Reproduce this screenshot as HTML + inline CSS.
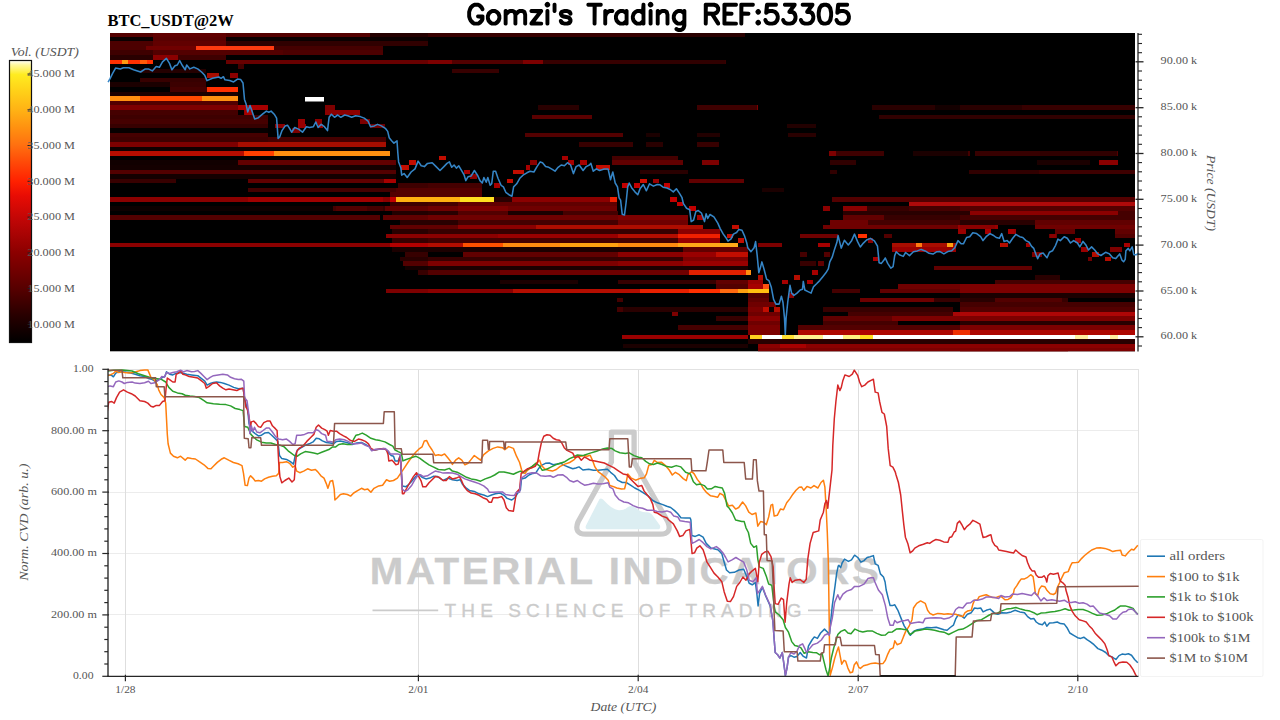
<!DOCTYPE html>
<html lang="en"><head><meta charset="utf-8"><title>BTC_USDT@2W - Gomzi's Trading REF:53305</title>
<style>
html,body{margin:0;padding:0;background:#fff;}
body{width:1280px;height:720px;position:relative;overflow:hidden;font-family:"Liberation Serif",serif;}
svg text{white-space:pre;}
</style></head><body>
<svg width="1280" height="720" viewBox="0 0 1280 720" style="position:absolute;left:0;top:0">
<defs><clipPath id="hc"><rect x="110" y="33" width="1025" height="318.3"/></clipPath>
<clipPath id="lc"><rect x="108" y="368" width="1031" height="309"/></clipPath>
<linearGradient id="cb" x1="0" y1="1" x2="0" y2="0">
<stop offset="0.000" stop-color="#000000"/>
<stop offset="0.100" stop-color="#2a0000"/>
<stop offset="0.190" stop-color="#560000"/>
<stop offset="0.320" stop-color="#8c0000"/>
<stop offset="0.440" stop-color="#c20606"/>
<stop offset="0.520" stop-color="#e80c04"/>
<stop offset="0.570" stop-color="#ff2000"/>
<stop offset="0.640" stop-color="#ff4a08"/>
<stop offset="0.700" stop-color="#ff7010"/>
<stop offset="0.760" stop-color="#ff9010"/>
<stop offset="0.820" stop-color="#ffb014"/>
<stop offset="0.890" stop-color="#ffd018"/>
<stop offset="0.950" stop-color="#ffec20"/>
<stop offset="0.985" stop-color="#fff8a0"/>
<stop offset="1.000" stop-color="#ffffff"/>
</linearGradient><clipPath id="hc2"><rect x="100" y="33" width="1045" height="318.5"/></clipPath></defs>
<rect x="110" y="33" width="1025" height="318.3" fill="#000"/>
<g clip-path="url(#hc)" shape-rendering="crispEdges">
<rect x="110" y="32" width="260" height="5" fill="#3c0000"/>
<rect x="153" y="32" width="73" height="5" fill="#4e0000"/>
<rect x="370" y="32" width="58" height="5" fill="#240000"/>
<rect x="153" y="37" width="73" height="4" fill="#450000"/>
<rect x="226" y="37" width="202" height="4" fill="#0a0000"/>
<rect x="110" y="41" width="43" height="5" fill="#370000"/>
<rect x="153" y="41" width="73" height="5" fill="#490000"/>
<rect x="226" y="41" width="202" height="5" fill="#290000"/>
<rect x="110" y="46" width="36" height="4" fill="#370000"/>
<rect x="146" y="46" width="50" height="4" fill="#5c0000"/>
<rect x="196" y="46" width="78" height="4" fill="#ff3a10"/>
<rect x="274" y="46" width="109" height="4" fill="#370000"/>
<rect x="110" y="50" width="43" height="5" fill="#300000"/>
<rect x="153" y="50" width="130" height="5" fill="#3e0000"/>
<rect x="283" y="50" width="100" height="5" fill="#450000"/>
<rect x="110" y="55" width="43" height="5" fill="#1b0000"/>
<rect x="153" y="55" width="25" height="5" fill="#780000"/>
<rect x="178" y="55" width="48" height="5" fill="#290000"/>
<rect x="110" y="60" width="43" height="4" fill="#ff3000"/>
<rect x="122" y="60" width="6" height="4" fill="#ff9a10"/>
<rect x="140" y="60" width="7" height="4" fill="#ff5a08"/>
<rect x="226" y="60" width="202" height="4" fill="#680000"/>
<rect x="238" y="64" width="6" height="5" fill="#450000"/>
<rect x="140" y="69" width="66" height="4" fill="#240000"/>
<rect x="207" y="73" width="12" height="5" fill="#a70d00"/>
<rect x="230" y="73" width="8" height="5" fill="#8b0000"/>
<rect x="140" y="78" width="66" height="4" fill="#370000"/>
<rect x="110" y="82" width="60" height="5" fill="#1b0000"/>
<rect x="170" y="82" width="36" height="5" fill="#3c0000"/>
<rect x="170" y="87" width="37" height="5" fill="#450000"/>
<rect x="207" y="87" width="31" height="5" fill="#ff3000"/>
<rect x="110" y="92" width="128" height="4" fill="#1b0000"/>
<rect x="110" y="96" width="30" height="5" fill="#ff9010"/>
<rect x="140" y="96" width="62" height="5" fill="#ff4a00"/>
<rect x="202" y="96" width="36" height="5" fill="#ff9010"/>
<rect x="110" y="101" width="128" height="4" fill="#530000"/>
<rect x="110" y="105" width="134" height="5" fill="#7d0000"/>
<rect x="238" y="105" width="30" height="5" fill="#a70000"/>
<rect x="110" y="110" width="128" height="5" fill="#450000"/>
<rect x="244" y="110" width="9" height="5" fill="#990000"/>
<rect x="110" y="115" width="158" height="4" fill="#3e0000"/>
<rect x="110" y="119" width="158" height="5" fill="#450000"/>
<rect x="110" y="124" width="158" height="4" fill="#370000"/>
<rect x="298" y="124" width="8" height="4" fill="#990000"/>
<rect x="318" y="124" width="5" height="4" fill="#990000"/>
<rect x="170" y="128" width="98" height="5" fill="#370000"/>
<rect x="110" y="133" width="158" height="4" fill="#450000"/>
<rect x="110" y="137" width="158" height="5" fill="#3e0000"/>
<rect x="268" y="137" width="118" height="5" fill="#450000"/>
<rect x="110" y="142" width="128" height="5" fill="#7d0000"/>
<rect x="238" y="142" width="148" height="5" fill="#a70d00"/>
<rect x="110" y="147" width="276" height="4" fill="#290000"/>
<rect x="110" y="151" width="134" height="5" fill="#b40d00"/>
<rect x="244" y="151" width="30" height="5" fill="#ff4000"/>
<rect x="274" y="151" width="116" height="5" fill="#ff9010"/>
<rect x="110" y="160" width="128" height="5" fill="#290000"/>
<rect x="238" y="160" width="158" height="5" fill="#7d0000"/>
<rect x="110" y="165" width="286" height="5" fill="#140000"/>
<rect x="110" y="170" width="286" height="4" fill="#530000"/>
<rect x="110" y="174" width="286" height="5" fill="#140000"/>
<rect x="110" y="179" width="66" height="4" fill="#370000"/>
<rect x="248" y="179" width="148" height="4" fill="#610000"/>
<rect x="384" y="179" width="12" height="4" fill="#a70000"/>
<rect x="248" y="188" width="148" height="4" fill="#450000"/>
<rect x="396" y="188" width="32" height="4" fill="#530000"/>
<rect x="390" y="192" width="38" height="5" fill="#610000"/>
<rect x="110" y="197" width="280" height="5" fill="#8b0000"/>
<rect x="390" y="197" width="6" height="5" fill="#c20000"/>
<rect x="396" y="197" width="32" height="5" fill="#ffb010"/>
<rect x="390" y="202" width="38" height="4" fill="#450000"/>
<rect x="110" y="206" width="223" height="5" fill="#290000"/>
<rect x="333" y="206" width="95" height="5" fill="#450000"/>
<rect x="248" y="197" width="135" height="5" fill="#a00000"/>
<rect x="336" y="206" width="31" height="5" fill="#530000"/>
<rect x="383" y="206" width="45" height="5" fill="#370000"/>
<rect x="110" y="215" width="270" height="5" fill="#530000"/>
<rect x="383" y="215" width="45" height="5" fill="#610000"/>
<rect x="390" y="225" width="38" height="4" fill="#610000"/>
<rect x="386" y="234" width="42" height="4" fill="#8b0000"/>
<rect x="110" y="243" width="280" height="4" fill="#8b0000"/>
<rect x="390" y="243" width="38" height="4" fill="#b40000"/>
<rect x="403" y="261" width="25" height="5" fill="#290000"/>
<rect x="386" y="289" width="42" height="4" fill="#7d0000"/>
<rect x="428" y="32" width="218" height="5" fill="#370000"/>
<rect x="428" y="60" width="24" height="4" fill="#7d0000"/>
<rect x="452" y="60" width="71" height="4" fill="#530000"/>
<rect x="523" y="60" width="20" height="4" fill="#7d0000"/>
<rect x="543" y="60" width="183" height="4" fill="#370000"/>
<rect x="452" y="69" width="47" height="4" fill="#370000"/>
<rect x="538" y="105" width="41" height="5" fill="#290000"/>
<rect x="697" y="105" width="51" height="5" fill="#7d0000"/>
<rect x="532" y="115" width="60" height="4" fill="#6f0000"/>
<rect x="526" y="133" width="97" height="4" fill="#610000"/>
<rect x="579" y="142" width="54" height="5" fill="#370000"/>
<rect x="646" y="142" width="17" height="5" fill="#290000"/>
<rect x="697" y="142" width="22" height="5" fill="#370000"/>
<rect x="612" y="156" width="66" height="4" fill="#450000"/>
<rect x="612" y="160" width="71" height="5" fill="#610000"/>
<rect x="702" y="160" width="17" height="5" fill="#7d0000"/>
<rect x="640" y="170" width="48" height="4" fill="#290000"/>
<rect x="689" y="179" width="55" height="4" fill="#610000"/>
<rect x="439" y="156" width="7" height="4" fill="#c20d00"/>
<rect x="464" y="170" width="6" height="4" fill="#a70000"/>
<rect x="470" y="174" width="7" height="5" fill="#8b0000"/>
<rect x="513" y="170" width="11" height="4" fill="#c20d00"/>
<rect x="507" y="179" width="6" height="4" fill="#c20d00"/>
<rect x="494" y="183" width="6" height="5" fill="#a70000"/>
<rect x="562" y="156" width="6" height="4" fill="#a70000"/>
<rect x="568" y="160" width="6" height="5" fill="#a70000"/>
<rect x="526" y="165" width="4" height="5" fill="#a70000"/>
<rect x="596" y="165" width="14" height="5" fill="#c20d00"/>
<rect x="580" y="160" width="7" height="5" fill="#a70000"/>
<rect x="530" y="160" width="7" height="5" fill="#8b0000"/>
<rect x="640" y="179" width="7" height="4" fill="#d00d00"/>
<rect x="653" y="179" width="6" height="4" fill="#990000"/>
<rect x="622" y="183" width="6" height="5" fill="#c20000"/>
<rect x="634" y="183" width="6" height="5" fill="#c20000"/>
<rect x="664" y="183" width="6" height="5" fill="#c20000"/>
<rect x="670" y="197" width="7" height="5" fill="#c20000"/>
<rect x="677" y="202" width="6" height="4" fill="#c20000"/>
<rect x="689" y="206" width="7" height="5" fill="#c20000"/>
<rect x="428" y="183" width="54" height="5" fill="#450000"/>
<rect x="428" y="188" width="54" height="4" fill="#530000"/>
<rect x="428" y="192" width="54" height="5" fill="#530000"/>
<rect x="428" y="197" width="32" height="5" fill="#ffb010"/>
<rect x="460" y="197" width="34" height="5" fill="#ffe020"/>
<rect x="494" y="197" width="18" height="5" fill="#290000"/>
<rect x="512" y="197" width="98" height="5" fill="#8b0000"/>
<rect x="610" y="197" width="7" height="5" fill="#f02000"/>
<rect x="428" y="202" width="84" height="4" fill="#530000"/>
<rect x="512" y="202" width="105" height="4" fill="#370000"/>
<rect x="428" y="206" width="189" height="5" fill="#610000"/>
<rect x="428" y="202" width="30" height="4" fill="#450000"/>
<rect x="458" y="202" width="159" height="4" fill="#610000"/>
<rect x="428" y="206" width="189" height="5" fill="#6f0000"/>
<rect x="458" y="206" width="50" height="5" fill="#7d0000"/>
<rect x="428" y="211" width="30" height="4" fill="#290000"/>
<rect x="458" y="211" width="50" height="4" fill="#530000"/>
<rect x="508" y="211" width="55" height="4" fill="#1b0000"/>
<rect x="563" y="211" width="55" height="4" fill="#450000"/>
<rect x="428" y="215" width="190" height="5" fill="#6f0000"/>
<rect x="618" y="215" width="70" height="5" fill="#7d0000"/>
<rect x="428" y="220" width="30" height="5" fill="#290000"/>
<rect x="458" y="220" width="160" height="5" fill="#450000"/>
<rect x="618" y="220" width="70" height="5" fill="#6f0000"/>
<rect x="428" y="225" width="30" height="4" fill="#610000"/>
<rect x="458" y="225" width="78" height="4" fill="#8b0000"/>
<rect x="536" y="225" width="167" height="4" fill="#ae0d00"/>
<rect x="428" y="229" width="250" height="5" fill="#370000"/>
<rect x="678" y="229" width="42" height="5" fill="#8b0000"/>
<rect x="428" y="234" width="70" height="4" fill="#8b0000"/>
<rect x="498" y="234" width="120" height="4" fill="#990000"/>
<rect x="618" y="234" width="60" height="4" fill="#b40d00"/>
<rect x="678" y="234" width="42" height="4" fill="#f02000"/>
<rect x="428" y="238" width="250" height="5" fill="#450000"/>
<rect x="678" y="238" width="42" height="5" fill="#990000"/>
<rect x="428" y="243" width="35" height="4" fill="#b40d00"/>
<rect x="463" y="243" width="40" height="4" fill="#ff5000"/>
<rect x="503" y="243" width="57" height="4" fill="#ff8a10"/>
<rect x="560" y="243" width="58" height="4" fill="#ffa010"/>
<rect x="618" y="243" width="60" height="4" fill="#ff8a10"/>
<rect x="678" y="243" width="60" height="4" fill="#ffa818"/>
<rect x="428" y="247" width="255" height="5" fill="#1b0000"/>
<rect x="683" y="247" width="65" height="5" fill="#610000"/>
<rect x="463" y="252" width="155" height="5" fill="#610000"/>
<rect x="618" y="252" width="65" height="5" fill="#8b0000"/>
<rect x="683" y="252" width="33" height="5" fill="#990000"/>
<rect x="716" y="252" width="32" height="5" fill="#c20d00"/>
<rect x="428" y="257" width="255" height="4" fill="#370000"/>
<rect x="683" y="257" width="65" height="4" fill="#7d0000"/>
<rect x="428" y="261" width="190" height="5" fill="#7d0000"/>
<rect x="618" y="261" width="65" height="5" fill="#8b0000"/>
<rect x="683" y="261" width="65" height="5" fill="#990000"/>
<rect x="428" y="266" width="320" height="4" fill="#1b0000"/>
<rect x="428" y="270" width="72" height="5" fill="#530000"/>
<rect x="500" y="270" width="189" height="5" fill="#6f0000"/>
<rect x="689" y="270" width="57" height="5" fill="#e02000"/>
<rect x="746" y="270" width="2" height="5" fill="#ff9010"/>
<rect x="500" y="280" width="78" height="4" fill="#1b0000"/>
<rect x="618" y="280" width="98" height="4" fill="#370000"/>
<rect x="716" y="280" width="32" height="4" fill="#610000"/>
<rect x="716" y="284" width="32" height="5" fill="#530000"/>
<rect x="428" y="289" width="85" height="4" fill="#8b0000"/>
<rect x="513" y="289" width="127" height="4" fill="#b40d00"/>
<rect x="640" y="289" width="49" height="4" fill="#e82000"/>
<rect x="689" y="289" width="31" height="4" fill="#ff3000"/>
<rect x="720" y="289" width="18" height="4" fill="#ff6a10"/>
<rect x="738" y="289" width="10" height="4" fill="#ffa010"/>
<rect x="617" y="298" width="6" height="4" fill="#450000"/>
<rect x="617" y="307" width="6" height="5" fill="#450000"/>
<rect x="623" y="307" width="125" height="5" fill="#290000"/>
<rect x="672" y="312" width="6" height="4" fill="#7d0000"/>
<rect x="716" y="316" width="32" height="5" fill="#370000"/>
<rect x="678" y="325" width="70" height="5" fill="#450000"/>
<rect x="622" y="335" width="126" height="4" fill="#990000"/>
<rect x="623" y="344" width="125" height="4" fill="#1b0000"/>
<rect x="697" y="215" width="6" height="5" fill="#a70000"/>
<rect x="732" y="225" width="7" height="4" fill="#c20d00"/>
<rect x="727" y="234" width="6" height="4" fill="#c20d00"/>
<rect x="738" y="238" width="6" height="5" fill="#c20d00"/>
<rect x="748" y="105" width="10" height="5" fill="#7d0000"/>
<rect x="873" y="105" width="55" height="5" fill="#450000"/>
<rect x="928" y="105" width="32" height="5" fill="#1b0000"/>
<rect x="960" y="105" width="63" height="5" fill="#370000"/>
<rect x="1023" y="105" width="45" height="5" fill="#610000"/>
<rect x="879" y="115" width="189" height="4" fill="#450000"/>
<rect x="788" y="133" width="28" height="4" fill="#290000"/>
<rect x="829" y="151" width="55" height="5" fill="#530000"/>
<rect x="829" y="151" width="7" height="5" fill="#8b0000"/>
<rect x="913" y="151" width="55" height="5" fill="#290000"/>
<rect x="976" y="151" width="64" height="5" fill="#530000"/>
<rect x="1040" y="151" width="28" height="5" fill="#370000"/>
<rect x="830" y="160" width="26" height="5" fill="#450000"/>
<rect x="1039" y="160" width="29" height="5" fill="#290000"/>
<rect x="830" y="170" width="7" height="4" fill="#450000"/>
<rect x="969" y="170" width="70" height="4" fill="#450000"/>
<rect x="1039" y="170" width="29" height="4" fill="#610000"/>
<rect x="762" y="188" width="22" height="4" fill="#290000"/>
<rect x="832" y="197" width="236" height="5" fill="#610000"/>
<rect x="909" y="202" width="159" height="4" fill="#c20606"/>
<rect x="823" y="206" width="7" height="5" fill="#8b0000"/>
<rect x="843" y="206" width="24" height="5" fill="#8b0000"/>
<rect x="909" y="206" width="159" height="5" fill="#6f0000"/>
<rect x="867" y="206" width="42" height="5" fill="#370000"/>
<rect x="909" y="206" width="159" height="5" fill="#450000"/>
<rect x="843" y="211" width="127" height="4" fill="#290000"/>
<rect x="970" y="211" width="98" height="4" fill="#8b0000"/>
<rect x="843" y="215" width="41" height="5" fill="#610000"/>
<rect x="884" y="215" width="184" height="5" fill="#370000"/>
<rect x="830" y="220" width="38" height="5" fill="#6f0000"/>
<rect x="868" y="220" width="168" height="5" fill="#450000"/>
<rect x="1036" y="220" width="32" height="5" fill="#610000"/>
<rect x="823" y="225" width="135" height="4" fill="#6f0000"/>
<rect x="958" y="225" width="40" height="4" fill="#990000"/>
<rect x="1036" y="225" width="32" height="4" fill="#530000"/>
<rect x="958" y="229" width="8" height="5" fill="#990000"/>
<rect x="1008" y="229" width="8" height="5" fill="#990000"/>
<rect x="800" y="234" width="38" height="4" fill="#6f0000"/>
<rect x="858" y="234" width="9" height="4" fill="#ff3000"/>
<rect x="884" y="234" width="8" height="4" fill="#530000"/>
<rect x="1049" y="234" width="8" height="4" fill="#6f0000"/>
<rect x="868" y="238" width="5" height="5" fill="#8b0000"/>
<rect x="758" y="243" width="24" height="4" fill="#7d0000"/>
<rect x="818" y="243" width="12" height="4" fill="#a70000"/>
<rect x="892" y="243" width="64" height="4" fill="#a70d00"/>
<rect x="916" y="243" width="6" height="4" fill="#ff7a10"/>
<rect x="947" y="243" width="6" height="4" fill="#ffa010"/>
<rect x="1000" y="243" width="7" height="4" fill="#c20d00"/>
<rect x="1027" y="243" width="3" height="4" fill="#a70000"/>
<rect x="892" y="247" width="64" height="5" fill="#990000"/>
<rect x="800" y="252" width="7" height="5" fill="#450000"/>
<rect x="824" y="252" width="6" height="5" fill="#530000"/>
<rect x="1033" y="252" width="6" height="5" fill="#a70000"/>
<rect x="873" y="257" width="5" height="4" fill="#a70000"/>
<rect x="800" y="261" width="16" height="5" fill="#370000"/>
<rect x="818" y="261" width="6" height="5" fill="#610000"/>
<rect x="934" y="266" width="98" height="4" fill="#610000"/>
<rect x="748" y="270" width="3" height="5" fill="#ff9010"/>
<rect x="812" y="270" width="6" height="5" fill="#a70000"/>
<rect x="758" y="275" width="5" height="5" fill="#b40d00"/>
<rect x="794" y="275" width="6" height="5" fill="#b40d00"/>
<rect x="748" y="280" width="15" height="4" fill="#990000"/>
<rect x="782" y="280" width="6" height="4" fill="#a70000"/>
<rect x="807" y="280" width="6" height="4" fill="#a70000"/>
<rect x="748" y="284" width="15" height="5" fill="#a70000"/>
<rect x="763" y="284" width="6" height="5" fill="#ff5010"/>
<rect x="898" y="284" width="170" height="5" fill="#6f0000"/>
<rect x="748" y="289" width="21" height="4" fill="#ffc010"/>
<rect x="832" y="289" width="28" height="4" fill="#450000"/>
<rect x="880" y="289" width="188" height="4" fill="#610000"/>
<rect x="748" y="293" width="21" height="5" fill="#530000"/>
<rect x="789" y="293" width="5" height="5" fill="#8b0000"/>
<rect x="748" y="298" width="21" height="4" fill="#610000"/>
<rect x="860" y="298" width="74" height="4" fill="#6f0000"/>
<rect x="934" y="298" width="134" height="4" fill="#370000"/>
<rect x="748" y="302" width="28" height="5" fill="#6f0000"/>
<rect x="748" y="307" width="32" height="5" fill="#7d0000"/>
<rect x="763" y="307" width="6" height="5" fill="#c20d00"/>
<rect x="769" y="307" width="5" height="5" fill="#0d0000"/>
<rect x="774" y="307" width="6" height="5" fill="#b40d00"/>
<rect x="823" y="307" width="130" height="5" fill="#370000"/>
<rect x="748" y="312" width="32" height="4" fill="#6f0000"/>
<rect x="848" y="312" width="105" height="4" fill="#450000"/>
<rect x="953" y="312" width="115" height="4" fill="#a70606"/>
<rect x="748" y="316" width="32" height="5" fill="#8b0000"/>
<rect x="823" y="316" width="69" height="5" fill="#610000"/>
<rect x="892" y="316" width="176" height="5" fill="#7d0000"/>
<rect x="748" y="321" width="32" height="4" fill="#6f0000"/>
<rect x="823" y="321" width="75" height="4" fill="#450000"/>
<rect x="748" y="325" width="32" height="5" fill="#7d0000"/>
<rect x="798" y="325" width="270" height="5" fill="#530000"/>
<rect x="748" y="330" width="32" height="5" fill="#7d0000"/>
<rect x="798" y="330" width="270" height="5" fill="#c20d00"/>
<rect x="953" y="330" width="17" height="5" fill="#ff3000"/>
<rect x="750" y="335" width="12" height="4" fill="#ffd020"/>
<rect x="762" y="335" width="20" height="4" fill="#ffffff"/>
<rect x="782" y="335" width="12" height="4" fill="#ffe030"/>
<rect x="794" y="335" width="29" height="4" fill="#fff090"/>
<rect x="823" y="335" width="20" height="4" fill="#ffffff"/>
<rect x="843" y="335" width="17" height="4" fill="#fff080"/>
<rect x="860" y="335" width="13" height="4" fill="#ffe020"/>
<rect x="873" y="335" width="195" height="4" fill="#ffffff"/>
<rect x="748" y="339" width="320" height="5" fill="#290000"/>
<rect x="758" y="344" width="310" height="4" fill="#8b0000"/>
<rect x="780" y="344" width="26" height="4" fill="#a70000"/>
<rect x="758" y="348" width="310" height="5" fill="#7d0000"/>
<rect x="960" y="105" width="62" height="5" fill="#450000"/>
<rect x="1022" y="105" width="113" height="5" fill="#610000"/>
<rect x="960" y="115" width="175" height="4" fill="#530000"/>
<rect x="960" y="151" width="10" height="5" fill="#450000"/>
<rect x="975" y="151" width="143" height="5" fill="#530000"/>
<rect x="1038" y="160" width="52" height="5" fill="#290000"/>
<rect x="1099" y="160" width="19" height="5" fill="#a70000"/>
<rect x="970" y="170" width="165" height="4" fill="#530000"/>
<rect x="960" y="197" width="175" height="5" fill="#6f0000"/>
<rect x="960" y="202" width="175" height="4" fill="#c90d0d"/>
<rect x="960" y="206" width="175" height="5" fill="#530000"/>
<rect x="970" y="211" width="148" height="4" fill="#8b0000"/>
<rect x="1118" y="211" width="17" height="4" fill="#450000"/>
<rect x="960" y="215" width="175" height="5" fill="#450000"/>
<rect x="960" y="220" width="75" height="5" fill="#290000"/>
<rect x="1035" y="220" width="100" height="5" fill="#610000"/>
<rect x="960" y="225" width="35" height="4" fill="#8b0000"/>
<rect x="1035" y="225" width="100" height="4" fill="#6f0000"/>
<rect x="985" y="229" width="6" height="5" fill="#a70000"/>
<rect x="1008" y="229" width="6" height="5" fill="#a70000"/>
<rect x="1055" y="229" width="20" height="5" fill="#610000"/>
<rect x="1115" y="229" width="20" height="5" fill="#610000"/>
<rect x="1050" y="234" width="6" height="4" fill="#8b0000"/>
<rect x="1115" y="234" width="20" height="4" fill="#530000"/>
<rect x="1075" y="238" width="6" height="5" fill="#990000"/>
<rect x="1001" y="243" width="7" height="4" fill="#b40d00"/>
<rect x="1026" y="243" width="4" height="4" fill="#a70000"/>
<rect x="1124" y="243" width="6" height="4" fill="#a70000"/>
<rect x="1081" y="247" width="7" height="5" fill="#990000"/>
<rect x="1110" y="247" width="12" height="5" fill="#7d0000"/>
<rect x="1032" y="252" width="10" height="5" fill="#7d0000"/>
<rect x="1092" y="252" width="7" height="5" fill="#b40d00"/>
<rect x="1105" y="257" width="6" height="4" fill="#b40d00"/>
<rect x="1088" y="257" width="4" height="4" fill="#6f0000"/>
<rect x="960" y="266" width="72" height="4" fill="#610000"/>
<rect x="1035" y="275" width="25" height="5" fill="#290000"/>
<rect x="995" y="280" width="140" height="4" fill="#450000"/>
<rect x="960" y="284" width="175" height="5" fill="#7d0000"/>
<rect x="960" y="289" width="175" height="4" fill="#7d0000"/>
<rect x="960" y="293" width="175" height="5" fill="#1b0000"/>
<rect x="960" y="298" width="35" height="4" fill="#290000"/>
<rect x="995" y="298" width="67" height="4" fill="#530000"/>
<rect x="960" y="302" width="175" height="5" fill="#450000"/>
<rect x="960" y="307" width="175" height="5" fill="#530000"/>
<rect x="960" y="312" width="175" height="4" fill="#ae0606"/>
<rect x="960" y="316" width="175" height="5" fill="#7d0000"/>
<rect x="960" y="321" width="175" height="4" fill="#290000"/>
<rect x="960" y="325" width="175" height="5" fill="#7d0000"/>
<rect x="960" y="330" width="175" height="5" fill="#d00d00"/>
<rect x="960" y="330" width="10" height="5" fill="#ff5010"/>
<rect x="960" y="335" width="175" height="4" fill="#ffffff"/>
<rect x="1075" y="335" width="13" height="4" fill="#fff0a0"/>
<rect x="1110" y="335" width="8" height="4" fill="#fff0a0"/>
<rect x="960" y="339" width="175" height="5" fill="#290000"/>
<rect x="960" y="344" width="175" height="4" fill="#8b0000"/>
<rect x="960" y="348" width="175" height="5" fill="#7d0000"/>
<rect x="240" y="105" width="8" height="5" fill="#a70000"/>
<rect x="245" y="110" width="6" height="5" fill="#a70000"/>
<rect x="325" y="110" width="35" height="5" fill="#8b0000"/>
<rect x="325" y="105" width="10" height="5" fill="#7d0000"/>
<rect x="360" y="119" width="10" height="5" fill="#7d0000"/>
<rect x="370" y="124" width="15" height="4" fill="#6f0000"/>
<rect x="275" y="124" width="10" height="4" fill="#8b0000"/>
<rect x="298" y="119" width="7" height="5" fill="#990000"/>
<rect x="315" y="119" width="7" height="5" fill="#8b0000"/>
<rect x="292" y="128" width="8" height="5" fill="#7d0000"/>
<rect x="401" y="165" width="8" height="5" fill="#c20d00"/>
<rect x="409" y="160" width="7" height="5" fill="#c20d00"/>
<rect x="110" y="32" width="260" height="5" fill="#530000"/>
<rect x="153" y="32" width="73" height="5" fill="#610000"/>
<rect x="110" y="37" width="43" height="4" fill="#0a0000"/>
<rect x="153" y="37" width="73" height="4" fill="#5a0000"/>
<rect x="110" y="41" width="43" height="5" fill="#4c0000"/>
<rect x="153" y="41" width="73" height="5" fill="#610000"/>
<rect x="226" y="41" width="202" height="5" fill="#300000"/>
<rect x="110" y="46" width="36" height="4" fill="#4c0000"/>
<rect x="146" y="46" width="50" height="4" fill="#6f0000"/>
<rect x="196" y="46" width="78" height="4" fill="#ff3a10"/>
<rect x="274" y="46" width="109" height="4" fill="#450000"/>
<rect x="110" y="50" width="43" height="5" fill="#3e0000"/>
<rect x="153" y="50" width="130" height="5" fill="#530000"/>
<rect x="283" y="50" width="100" height="5" fill="#4c0000"/>
<rect x="110" y="55" width="43" height="5" fill="#290000"/>
<rect x="153" y="55" width="25" height="5" fill="#8b0000"/>
<rect x="178" y="55" width="48" height="5" fill="#3e0000"/>
<rect x="640" y="32" width="105" height="5" fill="#290000"/>
<rect x="640" y="60" width="85" height="4" fill="#300000"/>
<rect x="697" y="105" width="60" height="5" fill="#3e0000"/>
<rect x="872" y="105" width="63" height="5" fill="#290000"/>
<rect x="935" y="105" width="25" height="5" fill="#140000"/>
<rect x="960" y="105" width="62" height="5" fill="#290000"/>
<rect x="1022" y="105" width="113" height="5" fill="#370000"/>
<rect x="879" y="115" width="256" height="4" fill="#300000"/>
<rect x="787" y="124" width="29" height="4" fill="#220000"/>
<rect x="646" y="133" width="14" height="4" fill="#1b0000"/>
<rect x="697" y="133" width="23" height="4" fill="#220000"/>
<rect x="829" y="151" width="55" height="5" fill="#3e0000"/>
<rect x="829" y="151" width="7" height="5" fill="#7d0000"/>
<rect x="913" y="151" width="55" height="5" fill="#1b0000"/>
<rect x="975" y="151" width="65" height="5" fill="#370000"/>
<rect x="1040" y="151" width="77" height="5" fill="#300000"/>
<rect x="830" y="160" width="26" height="5" fill="#300000"/>
<rect x="1037" y="160" width="53" height="5" fill="#1b0000"/>
<rect x="1099" y="160" width="19" height="5" fill="#8b0000"/>
<rect x="830" y="170" width="7" height="4" fill="#300000"/>
<rect x="969" y="170" width="70" height="4" fill="#300000"/>
<rect x="1039" y="170" width="96" height="4" fill="#3e0000"/>
<rect x="762" y="188" width="22" height="4" fill="#1b0000"/>
<rect x="832" y="197" width="303" height="5" fill="#530000"/>
<rect x="909" y="202" width="226" height="4" fill="#ae0a0a"/>
<rect x="798" y="330" width="155" height="5" fill="#ae0600"/>
<rect x="953" y="330" width="17" height="5" fill="#f03000"/>
<rect x="970" y="330" width="165" height="5" fill="#ae0600"/>
<rect x="110" y="128" width="158" height="5" fill="#060000"/>
<rect x="110" y="147" width="276" height="4" fill="#0f0000"/>
<rect x="110" y="160" width="128" height="5" fill="#110000"/>
<rect x="238" y="160" width="158" height="5" fill="#610000"/>
<rect x="110" y="206" width="223" height="5" fill="#0d0000"/>
<rect x="398" y="183" width="30" height="5" fill="#3e0000"/>
<rect x="396" y="188" width="32" height="4" fill="#530000"/>
<rect x="390" y="192" width="38" height="5" fill="#530000"/>
<rect x="390" y="202" width="38" height="4" fill="#3e0000"/>
<rect x="385" y="206" width="43" height="5" fill="#610000"/>
<rect x="392" y="211" width="36" height="4" fill="#220000"/>
<rect x="400" y="220" width="28" height="5" fill="#290000"/>
<rect x="392" y="229" width="36" height="5" fill="#290000"/>
<rect x="392" y="238" width="36" height="5" fill="#370000"/>
<rect x="392" y="247" width="36" height="5" fill="#1b0000"/>
<rect x="405" y="252" width="23" height="5" fill="#370000"/>
<rect x="400" y="257" width="28" height="4" fill="#290000"/>
<rect x="403" y="261" width="25" height="5" fill="#530000"/>
<rect x="405" y="266" width="23" height="4" fill="#140000"/>
<rect x="418" y="270" width="10" height="5" fill="#370000"/>
<rect x="532" y="115" width="60" height="4" fill="#5a0000"/>
<rect x="525" y="133" width="98" height="4" fill="#530000"/>
</g>
<rect x="305" y="97" width="19" height="4.5" fill="#fff"/>
<polyline clip-path="url(#hc2)" fill="none" stroke="#3585c6" stroke-width="1.55" stroke-linejoin="round" points="108.1,82.2 110.2,78.3 112.5,73.6 115.6,68.1 120.3,68.9 123.4,67.8 128.9,67.8 133.6,69.7 140.6,72.0 145.3,68.9 148.4,68.9 152.3,70.9 156.2,66.6 159.4,67.3 162.5,61.9 166.4,58.4 169.5,63.4 171.9,69.7 175.0,65.8 177.3,65.0 179.7,60.6 182.0,65.0 185.2,69.7 186.7,65.0 189.8,68.9 193.8,67.3 197.7,68.9 201.6,72.0 204.7,75.2 207.0,80.6 212.5,78.3 218.8,77.0 221.1,78.3 223.4,76.7 225.0,79.8 229.7,80.6 233.6,81.9 237.5,79.1 240.6,79.4 243.0,83.0 244.5,99.4 246.1,104.1 247.7,111.9 250.0,105.6 252.3,111.9 254.7,118.9 257.8,118.1 262.5,114.2 266.4,111.1 268.8,112.2 271.1,111.1 274.2,114.2 276.6,118.1 278.1,138.4 279.7,136.9 282.0,130.6 285.2,125.9 287.5,125.2 290.0,129.1 291.6,132.2 294.7,127.5 298.6,129.1 302.5,132.2 306.4,126.7 309.5,127.5 313.4,126.7 315.8,122.0 318.1,127.5 321.2,124.4 324.4,126.7 327.5,130.6 329.1,117.3 331.4,114.2 334.5,117.3 337.7,115.0 340.8,117.3 344.7,115.0 347.8,115.8 351.7,117.3 355.6,115.8 360.3,116.6 364.2,118.1 368.1,121.2 370.5,126.7 374.4,125.9 377.5,124.4 381.4,125.9 385.3,128.3 387.7,131.4 389.2,137.7 391.6,140.8 393.9,143.1 397.0,140.8 397.8,152.5 398.6,161.9 400.9,168.1 401.7,175.2 404.1,173.6 407.2,177.5 411.1,172.0 415.0,168.9 418.1,161.1 421.2,165.8 424.4,166.6 427.5,163.4 432.2,162.7 436.1,166.6 440.0,170.5 443.9,166.6 447.0,163.4 449.4,161.9 451.7,167.3 454.1,165.0 456.4,168.1 458.8,165.8 461.9,171.2 464.2,175.2 465.8,180.6 468.1,176.7 471.2,175.9 474.4,170.5 477.5,175.2 480.0,180.6 482.3,183.0 483.9,177.5 486.2,182.2 487.8,177.5 490.2,185.3 491.7,183.8 493.3,171.2 495.6,171.2 498.0,178.3 501.1,185.3 503.4,186.9 505.8,192.3 508.9,194.7 512.0,196.2 513.6,186.9 516.7,183.8 519.8,178.3 523.0,175.2 526.9,172.8 530.0,171.2 533.9,172.0 537.0,166.6 540.2,161.9 542.5,162.7 545.6,166.6 548.8,167.3 552.7,169.7 555.0,171.2 558.1,167.3 561.2,165.0 564.4,165.8 567.5,162.7 570.6,165.0 573.4,173.6 576.1,166.6 579.2,165.0 583.1,170.5 586.2,166.6 589.4,165.0 590.9,163.4 593.3,171.2 596.4,168.9 599.5,170.5 604.2,168.9 608.1,168.9 610.5,179.8 612.8,172.0 615.2,183.0 617.5,186.9 619.1,197.8 620.6,200.2 622.2,214.2 624.5,215.0 626.1,202.5 627.7,186.9 629.2,183.0 631.6,187.7 634.7,191.6 637.8,194.7 640.2,188.4 643.3,184.5 646.4,190.8 649.5,183.8 653.4,186.1 657.3,184.5 660.0,184.8 663.1,187.2 667.0,188.0 670.2,189.5 673.3,191.9 676.4,188.8 679.5,193.4 681.9,197.3 683.4,203.6 686.6,208.3 689.7,209.8 691.2,221.6 693.6,220.0 695.9,211.4 698.3,210.6 701.4,213.0 704.5,221.6 706.1,213.8 707.7,218.4 710.0,214.5 713.9,216.9 717.8,223.1 720.2,228.6 723.3,234.1 725.6,237.2 728.0,241.1 731.1,238.8 733.4,234.1 736.6,232.5 738.9,229.4 742.0,230.2 744.4,235.6 746.7,242.7 747.8,247.8 750.9,251.7 754.1,247.8 755.6,241.6 757.2,255.6 758.8,272.8 760.3,268.1 761.9,261.9 764.2,269.7 766.6,279.1 768.9,280.6 771.2,286.9 773.6,299.4 775.9,304.1 779.1,304.1 781.4,296.2 783.0,302.5 784.5,318.1 785.3,334.5 786.1,318.1 787.7,302.5 790.0,285.3 791.6,293.1 793.9,295.5 797.0,293.1 800.2,290.0 802.5,289.2 803.3,281.4 804.8,290.0 808.0,291.6 811.1,293.1 813.4,286.9 816.6,283.8 819.7,280.6 822.8,276.7 825.9,272.8 828.3,268.9 829.8,261.9 832.2,257.2 834.5,249.4 836.9,242.3 838.1,235.6 841.2,248.1 844.4,240.3 848.3,245.0 851.4,241.1 854.5,234.1 857.7,241.9 860.3,247.0 863.4,243.1 866.6,240.0 870.5,238.4 874.4,240.8 877.5,246.2 879.1,262.7 881.4,263.4 883.8,260.3 885.3,258.0 887.7,263.4 890.8,268.1 893.1,266.6 894.7,255.6 896.2,251.7 899.4,254.8 903.3,256.4 905.6,252.5 909.5,255.6 913.4,251.7 917.3,250.9 921.2,249.4 925.2,250.9 929.1,253.3 933.0,254.1 936.9,251.7 940.0,251.6 943.9,253.9 947.8,251.6 951.7,250.8 954.8,247.7 958.0,240.6 961.1,243.8 963.4,243.8 966.6,237.5 969.7,236.7 972.8,232.8 976.7,233.6 980.6,236.7 983.0,240.6 986.1,236.7 990.0,233.6 993.1,235.2 996.2,237.5 999.4,238.3 1001.7,233.6 1004.1,241.4 1007.2,240.6 1009.5,243.0 1012.7,238.3 1015.8,234.4 1019.7,236.7 1022.8,237.5 1025.9,240.6 1029.1,242.2 1031.4,246.1 1033.8,248.4 1036.1,254.7 1037.7,258.6 1040.0,253.9 1043.1,253.1 1047.0,257.8 1049.4,252.3 1052.5,250.8 1055.6,245.3 1058.0,239.1 1060.3,240.6 1064.2,236.7 1067.3,238.3 1070.5,243.0 1073.6,240.6 1077.5,243.0 1079.8,246.9 1083.0,241.4 1086.1,245.3 1088.4,250.0 1091.6,246.9 1094.7,250.0 1097.8,253.9 1100.9,255.5 1105.6,252.3 1109.5,253.9 1112.7,257.8 1115.8,258.6 1119.7,253.9 1122.0,260.2 1123.6,261.7 1125.2,259.4 1125.9,250.8 1128.3,248.4 1129.8,250.8 1132.2,246.9 1133.8,254.7 1136.1,254.7 1139.2,253.1"/>
<g stroke="#222" stroke-width="1.3" fill="none">
<line x1="1138" y1="33" x2="1138" y2="351.5"/>
<line x1="1138" y1="346.0" x2="1142" y2="346.0" stroke-width="1.1"/>
<line x1="1135.5" y1="336.8" x2="1143.5" y2="336.8"/>
<line x1="1138" y1="327.6" x2="1142" y2="327.6" stroke-width="1.1"/>
<line x1="1138" y1="318.5" x2="1142" y2="318.5" stroke-width="1.1"/>
<line x1="1138" y1="309.3" x2="1142" y2="309.3" stroke-width="1.1"/>
<line x1="1138" y1="300.1" x2="1142" y2="300.1" stroke-width="1.1"/>
<line x1="1135.5" y1="291.0" x2="1143.5" y2="291.0"/>
<line x1="1138" y1="281.8" x2="1142" y2="281.8" stroke-width="1.1"/>
<line x1="1138" y1="272.6" x2="1142" y2="272.6" stroke-width="1.1"/>
<line x1="1138" y1="263.5" x2="1142" y2="263.5" stroke-width="1.1"/>
<line x1="1138" y1="254.3" x2="1142" y2="254.3" stroke-width="1.1"/>
<line x1="1135.5" y1="245.1" x2="1143.5" y2="245.1"/>
<line x1="1138" y1="236.0" x2="1142" y2="236.0" stroke-width="1.1"/>
<line x1="1138" y1="226.8" x2="1142" y2="226.8" stroke-width="1.1"/>
<line x1="1138" y1="217.6" x2="1142" y2="217.6" stroke-width="1.1"/>
<line x1="1138" y1="208.5" x2="1142" y2="208.5" stroke-width="1.1"/>
<line x1="1135.5" y1="199.3" x2="1143.5" y2="199.3"/>
<line x1="1138" y1="190.1" x2="1142" y2="190.1" stroke-width="1.1"/>
<line x1="1138" y1="181.0" x2="1142" y2="181.0" stroke-width="1.1"/>
<line x1="1138" y1="171.8" x2="1142" y2="171.8" stroke-width="1.1"/>
<line x1="1138" y1="162.6" x2="1142" y2="162.6" stroke-width="1.1"/>
<line x1="1135.5" y1="153.5" x2="1143.5" y2="153.5"/>
<line x1="1138" y1="144.3" x2="1142" y2="144.3" stroke-width="1.1"/>
<line x1="1138" y1="135.1" x2="1142" y2="135.1" stroke-width="1.1"/>
<line x1="1138" y1="126.0" x2="1142" y2="126.0" stroke-width="1.1"/>
<line x1="1138" y1="116.8" x2="1142" y2="116.8" stroke-width="1.1"/>
<line x1="1135.5" y1="107.7" x2="1143.5" y2="107.7"/>
<line x1="1138" y1="98.5" x2="1142" y2="98.5" stroke-width="1.1"/>
<line x1="1138" y1="89.3" x2="1142" y2="89.3" stroke-width="1.1"/>
<line x1="1138" y1="80.2" x2="1142" y2="80.2" stroke-width="1.1"/>
<line x1="1138" y1="71.0" x2="1142" y2="71.0" stroke-width="1.1"/>
<line x1="1135.5" y1="61.8" x2="1143.5" y2="61.8"/>
<line x1="1138" y1="52.7" x2="1142" y2="52.7" stroke-width="1.1"/>
<line x1="1138" y1="43.5" x2="1142" y2="43.5" stroke-width="1.1"/>
<line x1="1138" y1="34.3" x2="1142" y2="34.3" stroke-width="1.1"/>
</g>
<g font-family="'Liberation Serif', serif" font-size="10.5" fill="#555">
<text x="1160.6" y="339.4" textLength="36.6" lengthAdjust="spacingAndGlyphs">60.00 k</text>
<text x="1160.6" y="293.6" textLength="36.6" lengthAdjust="spacingAndGlyphs">65.00 k</text>
<text x="1160.6" y="247.7" textLength="36.6" lengthAdjust="spacingAndGlyphs">70.00 k</text>
<text x="1160.6" y="201.9" textLength="36.6" lengthAdjust="spacingAndGlyphs">75.00 k</text>
<text x="1160.6" y="156.1" textLength="36.6" lengthAdjust="spacingAndGlyphs">80.00 k</text>
<text x="1160.6" y="110.2" textLength="36.6" lengthAdjust="spacingAndGlyphs">85.00 k</text>
<text x="1160.6" y="64.4" textLength="36.6" lengthAdjust="spacingAndGlyphs">90.00 k</text>
<text transform="translate(1206.6,193) rotate(90)" text-anchor="middle" font-style="italic" font-size="11.9" textLength="76" lengthAdjust="spacingAndGlyphs">Price (USDT)</text>
</g>
<rect x="9.5" y="60.5" width="22" height="282" fill="url(#cb)" stroke="#111" stroke-width="1.2"/>
<g font-family="'Liberation Serif', serif" font-size="10.5" fill="#555">
<text x="10.8" y="55.6" font-style="italic" font-size="11.9" textLength="68" lengthAdjust="spacingAndGlyphs">Vol. (USDT)</text>
<line x1="27.5" y1="74.0" x2="31.5" y2="74.0" stroke="#222" stroke-width="1"/>
<text x="27.3" y="77.2" textLength="47.7" lengthAdjust="spacingAndGlyphs">45.000 M</text>
<line x1="27.5" y1="109.8" x2="31.5" y2="109.8" stroke="#222" stroke-width="1"/>
<text x="27.3" y="113.0" textLength="47.7" lengthAdjust="spacingAndGlyphs">40.000 M</text>
<line x1="27.5" y1="145.5" x2="31.5" y2="145.5" stroke="#222" stroke-width="1"/>
<text x="27.3" y="148.7" textLength="47.7" lengthAdjust="spacingAndGlyphs">35.000 M</text>
<line x1="27.5" y1="181.3" x2="31.5" y2="181.3" stroke="#222" stroke-width="1"/>
<text x="27.3" y="184.5" textLength="47.7" lengthAdjust="spacingAndGlyphs">30.000 M</text>
<line x1="27.5" y1="217.1" x2="31.5" y2="217.1" stroke="#222" stroke-width="1"/>
<text x="27.3" y="220.3" textLength="47.7" lengthAdjust="spacingAndGlyphs">25.000 M</text>
<line x1="27.5" y1="252.9" x2="31.5" y2="252.9" stroke="#222" stroke-width="1"/>
<text x="27.3" y="256.1" textLength="47.7" lengthAdjust="spacingAndGlyphs">20.000 M</text>
<line x1="27.5" y1="288.6" x2="31.5" y2="288.6" stroke="#222" stroke-width="1"/>
<text x="27.3" y="291.8" textLength="47.7" lengthAdjust="spacingAndGlyphs">15.000 M</text>
<line x1="27.5" y1="324.4" x2="31.5" y2="324.4" stroke="#222" stroke-width="1"/>
<text x="27.3" y="327.6" textLength="47.7" lengthAdjust="spacingAndGlyphs">10.000 M</text>
</g>
<text x="107.4" y="26.2" font-family="'Liberation Serif', serif" font-weight="bold" font-size="16.2" fill="#000" textLength="126.5" lengthAdjust="spacingAndGlyphs">BTC_USDT@2W</text>
<g transform="translate(466.49,23.62) scale(0.8894,0.9016)" role="img" aria-label="Gomzi's Trading REF:53305"><title>Gomzi's Trading REF:53305</title><path fill="#000" fill-rule="evenodd" d="M327.6,-4.2 326.4,-3.6 325.4,-2.6 324.9,-1.8 324.8,-0.8 325.4,0.6 326.4,1.6 327.2,2.1 328.2,2.2 329.6,1.6 330.6,0.6 331.1,-0.2 331.2,-1.2 330.6,-2.6 329.6,-3.6 328.4,-4.2ZM327.6,-16.2 326.4,-15.6 325.4,-14.6 324.9,-13.8 324.8,-12.8 325.4,-11.4 326.4,-10.4 327.2,-9.9 328.2,-9.8 329.6,-10.4 330.6,-11.4 331.1,-12.2 331.2,-13.2 330.6,-14.6 329.6,-15.6 328.4,-16.2ZM245.2,-16.2 244.2,-16.1 243.2,-15.4 242.1,-16.0 241.2,-16.2 237.8,-16.2 236.9,-16.0 235.1,-15.1 234.4,-14.6 232.4,-12.6 231.8,-11.6 230.9,-9.0 230.8,-5.8 231.8,-2.4 232.4,-1.4 234.4,0.6 236.9,2.0 237.8,2.2 241.2,2.2 242.5,1.8 242.5,2.4 242.0,3.8 241.5,4.2 240.5,4.8 238.5,4.8 237.1,4.0 236.2,3.8 235.2,3.9 234.8,4.1 234.1,4.8 233.8,5.8 233.8,6.2 234.1,7.2 235.1,8.1 237.2,9.1 237.8,9.2 241.2,9.2 242.1,9.0 243.9,8.1 244.6,7.6 245.9,6.2 246.2,5.6 247.1,3.0 247.2,2.2 247.2,-14.2 246.9,-15.2 246.2,-15.9ZM238.5,-11.8 240.5,-11.8 241.5,-11.2 242.8,-10.0 242.8,-4.0 241.5,-2.8 240.5,-2.2 238.5,-2.2 237.5,-2.8 236.0,-4.2 235.2,-6.4 235.2,-7.6 236.0,-9.8 237.5,-11.2ZM213.8,-15.9 213.1,-15.2 212.8,-14.2 212.8,0.2 213.1,1.2 213.8,1.9 214.8,2.2 215.8,2.1 216.2,1.9 216.9,1.2 217.2,0.2 217.2,-9.0 219.5,-11.2 220.5,-11.8 222.5,-11.8 223.2,-11.1 223.8,-9.6 223.8,0.2 224.1,1.2 224.8,1.9 225.2,2.1 226.2,2.2 227.2,1.9 227.9,1.2 228.2,0.2 228.2,-10.2 227.4,-13.2 226.9,-14.2 225.9,-15.1 224.1,-16.0 223.2,-16.2 219.8,-16.2 218.9,-16.0 217.0,-15.0 216.2,-15.9 215.8,-16.1 214.8,-16.2ZM206.8,-16.2 205.8,-15.9 205.1,-15.2 204.8,-14.2 204.8,0.2 205.1,1.2 205.8,1.9 206.2,2.1 207.2,2.2 208.2,1.9 208.9,1.2 209.2,0.2 209.2,-14.2 208.9,-15.2 208.2,-15.9 207.8,-16.1ZM170.1,-15.1 169.4,-14.6 167.4,-12.6 166.8,-11.6 165.9,-9.0 165.8,-8.2 165.9,-5.0 166.8,-2.4 167.1,-1.8 169.4,0.6 172.2,2.1 172.8,2.2 176.2,2.2 177.1,2.0 178.2,1.4 178.8,1.9 179.8,2.2 180.2,2.2 181.2,1.9 181.9,1.2 182.2,0.2 182.2,-14.2 181.9,-15.2 181.2,-15.9 180.2,-16.2 179.2,-16.1 178.2,-15.4 177.1,-16.0 176.2,-16.2 172.8,-16.2 171.9,-16.0ZM173.5,-11.8 175.5,-11.8 176.5,-11.2 177.8,-10.0 177.8,-4.0 176.5,-2.8 175.5,-2.2 173.5,-2.2 172.5,-2.8 171.0,-4.2 170.2,-6.4 170.2,-7.6 171.0,-9.8 172.5,-11.2ZM164.2,-16.2 160.8,-16.2 159.9,-16.0 158.0,-15.0 157.2,-15.9 156.8,-16.1 155.8,-16.2 154.8,-15.9 154.1,-15.2 153.8,-14.2 153.8,0.2 154.1,1.2 154.8,1.9 155.8,2.2 156.8,2.1 157.2,1.9 157.9,1.2 158.2,0.2 158.2,-7.6 159.0,-9.8 160.5,-11.2 161.5,-11.8 164.2,-11.8 165.2,-12.1 165.9,-12.8 166.2,-13.8 166.1,-14.8 165.9,-15.2 165.2,-15.9ZM106.4,-15.2 105.8,-14.9 104.9,-13.9 104.0,-12.1 103.8,-11.2 104.0,-9.9 105.1,-7.8 106.1,-6.9 108.5,-5.8 113.5,-4.8 114.5,-4.0 114.6,-3.2 114.1,-2.8 112.6,-2.2 110.4,-2.2 108.9,-2.8 107.9,-4.2 107.2,-4.9 106.2,-5.2 105.2,-5.1 104.8,-4.9 104.1,-4.2 103.8,-3.2 104.0,-1.9 105.1,0.2 106.4,1.2 109.8,2.2 113.2,2.2 114.0,2.1 116.2,1.4 117.2,0.9 118.1,-0.1 119.0,-1.9 119.2,-2.8 119.1,-4.8 117.9,-7.2 116.9,-8.1 115.1,-9.0 114.0,-9.4 109.9,-10.1 109.0,-10.5 108.6,-11.0 108.9,-11.2 110.4,-11.8 112.6,-11.8 114.1,-11.2 115.1,-9.8 115.8,-9.1 116.8,-8.8 117.8,-8.9 118.2,-9.1 118.9,-9.8 119.2,-10.8 119.0,-12.1 117.9,-14.2 116.6,-15.2 113.2,-16.2 109.8,-16.2ZM90.8,-16.2 89.8,-15.9 89.1,-15.2 88.8,-14.2 88.8,0.2 89.1,1.2 89.8,1.9 90.2,2.1 91.2,2.2 92.2,1.9 92.9,1.2 93.2,0.2 93.2,-14.2 92.9,-15.2 92.2,-15.9 91.8,-16.1ZM71.8,-15.9 71.1,-15.2 70.8,-14.2 70.9,-13.2 71.1,-12.8 71.8,-12.1 72.8,-11.8 79.2,-11.6 71.2,-1.5 70.8,-0.4 70.8,0.4 71.1,1.2 71.8,1.9 72.6,2.2 84.2,2.2 85.2,1.9 85.9,1.2 86.2,0.2 86.1,-0.8 85.9,-1.2 85.2,-1.9 84.2,-2.2 77.8,-2.4 85.8,-12.5 86.2,-13.6 86.2,-14.4 85.9,-15.2 85.2,-15.9 84.4,-16.2 72.8,-16.2ZM42.1,-15.2 41.8,-14.2 41.8,0.2 42.1,1.2 42.8,1.9 43.8,2.2 44.8,2.1 45.2,1.9 45.9,1.2 46.2,0.2 46.2,-9.0 48.5,-11.2 49.5,-11.8 51.5,-11.8 52.2,-11.1 52.8,-9.6 52.8,0.2 53.1,1.2 53.8,1.9 54.8,2.2 55.8,2.1 56.2,1.9 56.9,1.2 57.2,0.2 57.2,-9.0 59.5,-11.2 60.5,-11.8 62.5,-11.8 63.2,-11.1 63.8,-9.6 63.8,0.2 64.1,1.2 64.8,1.9 65.8,2.2 66.8,2.1 67.2,1.9 67.9,1.2 68.2,0.2 68.2,-10.2 67.4,-13.2 66.9,-14.2 65.9,-15.1 64.1,-16.0 63.2,-16.2 59.8,-16.2 59.2,-16.1 57.1,-15.1 55.9,-14.2 54.9,-15.1 53.1,-16.0 52.2,-16.2 48.8,-16.2 47.9,-16.0 46.0,-15.0 45.2,-15.9 44.8,-16.1 43.8,-16.2 42.8,-15.9ZM28.6,-16.2 27.9,-16.0 25.4,-14.6 23.1,-12.2 22.8,-11.6 21.9,-9.0 21.8,-8.2 21.9,-5.0 22.8,-2.4 23.1,-1.8 25.4,0.6 27.9,2.0 28.8,2.2 32.2,2.2 33.1,2.0 35.6,0.6 37.9,-1.8 38.2,-2.4 39.1,-5.0 39.2,-5.8 39.1,-9.0 38.2,-11.6 37.9,-12.2 35.6,-14.6 33.1,-16.0 32.2,-16.2ZM29.5,-11.8 31.5,-11.8 32.5,-11.2 34.0,-9.8 34.8,-7.6 34.8,-6.4 34.0,-4.2 32.5,-2.8 31.5,-2.2 29.5,-2.2 28.5,-2.8 27.0,-4.2 26.2,-6.4 26.2,-7.6 27.0,-9.8 28.5,-11.2ZM416.8,-22.9 416.1,-22.2 415.6,-20.8 414.8,-12.9 414.8,-11.8 415.1,-10.8 415.8,-10.1 416.2,-9.9 417.2,-9.8 418.2,-10.1 419.5,-11.1 421.4,-11.8 423.6,-11.8 425.5,-11.1 427.1,-9.5 427.8,-7.6 427.8,-6.4 427.0,-4.2 425.8,-3.0 423.6,-2.2 421.4,-2.2 419.2,-3.0 418.8,-3.5 417.9,-5.2 417.2,-5.9 416.2,-6.2 415.2,-6.1 414.8,-5.9 414.1,-5.2 413.8,-4.2 414.0,-2.9 415.4,-0.4 416.4,0.6 417.4,1.2 420.0,2.1 420.8,2.2 424.2,2.2 427.2,1.4 428.6,0.6 430.6,-1.4 431.2,-2.4 432.1,-5.0 432.2,-8.2 431.4,-11.2 430.6,-12.6 428.6,-14.6 427.6,-15.2 424.2,-16.2 420.8,-16.2 419.9,-16.0 419.8,-16.6 419.9,-17.8 420.1,-18.8 428.2,-18.8 429.2,-19.1 429.9,-19.8 430.2,-20.8 430.1,-21.8 429.9,-22.2 429.2,-22.9 428.2,-23.2 417.8,-23.2ZM401.6,-23.2 398.4,-22.2 397.8,-21.9 396.9,-21.0 395.1,-18.4 394.6,-17.0 393.8,-12.6 393.8,-8.4 394.8,-3.5 395.1,-2.6 396.9,0.0 397.8,0.9 398.4,1.2 401.0,2.1 404.2,2.2 407.6,1.2 408.2,0.9 409.1,0.0 410.9,-2.6 411.4,-4.0 412.2,-8.4 412.2,-12.6 411.2,-17.5 410.9,-18.4 409.1,-21.0 408.2,-21.9 407.6,-22.2 405.0,-23.1ZM402.4,-18.8 403.6,-18.8 405.6,-18.0 406.9,-16.1 407.8,-11.9 407.8,-9.2 406.9,-4.9 405.6,-3.0 403.6,-2.2 402.4,-2.2 400.4,-3.0 399.1,-4.9 398.2,-9.2 398.2,-11.8 399.1,-16.1 400.4,-18.0ZM376.8,-22.9 376.1,-22.2 375.8,-21.2 375.9,-20.2 376.1,-19.8 376.8,-19.1 377.8,-18.8 384.4,-18.6 381.1,-14.4 380.8,-13.2 380.9,-12.2 381.1,-11.8 381.8,-11.1 382.8,-10.8 385.5,-10.8 386.5,-10.2 387.1,-9.5 387.8,-7.6 387.8,-6.4 387.0,-4.2 385.8,-3.0 383.6,-2.2 381.4,-2.2 379.2,-3.0 378.8,-3.5 377.9,-5.2 377.2,-5.9 376.2,-6.2 375.2,-6.1 374.8,-5.9 374.1,-5.2 373.8,-4.2 374.0,-2.9 375.4,-0.4 376.4,0.6 377.4,1.2 380.0,2.1 380.8,2.2 384.2,2.2 387.2,1.4 388.6,0.6 390.6,-1.4 391.2,-2.4 392.1,-5.0 392.2,-8.2 391.4,-11.2 390.6,-12.6 389.6,-13.6 387.5,-14.8 387.5,-15.2 390.9,-19.6 391.2,-20.8 391.1,-21.8 390.9,-22.2 390.2,-22.9 389.2,-23.2 377.8,-23.2ZM356.8,-22.9 356.1,-22.2 355.8,-21.2 355.9,-20.2 356.1,-19.8 356.8,-19.1 357.8,-18.8 364.4,-18.6 361.1,-14.4 360.8,-13.2 360.9,-12.2 361.1,-11.8 361.8,-11.1 362.8,-10.8 365.5,-10.8 366.5,-10.2 367.1,-9.5 367.8,-7.6 367.8,-6.4 367.0,-4.2 365.8,-3.0 363.6,-2.2 361.4,-2.2 359.2,-3.0 358.8,-3.5 357.9,-5.2 357.2,-5.9 356.2,-6.2 355.2,-6.1 354.8,-5.9 354.1,-5.2 353.8,-4.2 354.0,-2.9 355.4,-0.4 356.4,0.6 357.4,1.2 360.0,2.1 360.8,2.2 364.2,2.2 367.2,1.4 368.6,0.6 370.6,-1.4 371.2,-2.4 372.1,-5.0 372.2,-8.2 371.4,-11.2 370.6,-12.6 369.6,-13.6 367.5,-14.8 367.5,-15.2 370.9,-19.6 371.2,-20.8 371.1,-21.8 370.9,-22.2 370.2,-22.9 369.2,-23.2 357.8,-23.2ZM336.8,-22.9 336.1,-22.2 335.6,-20.8 334.8,-12.9 334.8,-11.8 335.1,-10.8 335.8,-10.1 336.2,-9.9 337.2,-9.8 338.2,-10.1 339.5,-11.1 341.4,-11.8 343.6,-11.8 345.5,-11.1 347.1,-9.5 347.8,-7.6 347.8,-6.4 347.0,-4.2 345.8,-3.0 343.6,-2.2 341.4,-2.2 339.2,-3.0 338.8,-3.5 337.9,-5.2 337.2,-5.9 336.2,-6.2 335.2,-6.1 334.8,-5.9 334.1,-5.2 333.8,-4.2 334.0,-2.9 335.4,-0.4 336.4,0.6 337.4,1.2 340.0,2.1 340.8,2.2 344.2,2.2 347.2,1.4 348.6,0.6 350.6,-1.4 351.2,-2.4 352.1,-5.0 352.2,-8.2 351.4,-11.2 350.6,-12.6 348.6,-14.6 347.6,-15.2 344.2,-16.2 340.8,-16.2 339.9,-16.0 339.8,-16.6 339.9,-17.8 340.1,-18.8 348.2,-18.8 349.2,-19.1 349.9,-19.8 350.2,-20.8 350.1,-21.8 349.9,-22.2 349.2,-22.9 348.2,-23.2 337.8,-23.2ZM323.2,-22.9 322.2,-23.2 308.6,-23.2 307.8,-22.9 307.1,-22.2 306.8,-21.4 306.8,0.2 307.1,1.2 307.8,1.9 308.8,2.2 309.8,2.1 310.2,1.9 310.9,1.2 311.2,0.2 311.4,-8.8 317.2,-8.8 318.2,-9.1 318.9,-9.8 319.2,-10.8 319.2,-11.2 318.9,-12.2 318.2,-12.9 317.2,-13.2 311.2,-13.4 311.4,-18.8 322.2,-18.8 323.2,-19.1 323.9,-19.8 324.2,-20.8 324.1,-21.8 323.9,-22.2ZM288.8,-22.9 288.1,-22.2 287.8,-21.4 287.8,0.4 288.1,1.2 288.8,1.9 289.6,2.2 303.2,2.2 304.2,1.9 304.9,1.2 305.1,0.8 305.2,-0.2 304.9,-1.2 304.2,-1.9 303.2,-2.2 292.2,-2.4 292.4,-8.8 298.2,-8.8 299.2,-9.1 299.9,-9.8 300.2,-10.8 300.2,-11.2 299.9,-12.2 299.2,-12.9 298.2,-13.2 292.2,-13.4 292.4,-18.8 303.2,-18.8 304.2,-19.1 304.9,-19.8 305.1,-20.2 305.2,-21.2 304.9,-22.2 304.2,-22.9 303.2,-23.2 289.6,-23.2ZM267.8,-22.9 267.1,-22.2 266.8,-21.4 266.8,0.2 267.1,1.2 267.8,1.9 268.8,2.2 269.8,2.1 270.2,1.9 270.9,1.2 271.2,0.2 271.4,-8.8 274.6,-8.8 275.8,-7.2 280.9,1.0 281.8,1.9 282.2,2.1 283.2,2.2 284.2,1.9 284.9,1.2 285.2,0.2 285.1,-0.8 284.9,-1.4 279.9,-9.1 281.2,-9.6 282.6,-10.4 283.6,-11.4 285.0,-13.9 285.2,-14.8 285.2,-17.2 285.0,-18.1 284.1,-19.9 283.6,-20.6 282.2,-21.9 281.6,-22.2 279.0,-23.1 278.2,-23.2 268.6,-23.2ZM271.4,-18.8 277.6,-18.8 279.5,-18.1 280.2,-17.5 280.8,-16.5 280.8,-15.5 280.2,-14.5 279.8,-14.0 277.6,-13.2 271.2,-13.4ZM199.2,-23.2 198.2,-23.1 197.8,-22.9 197.1,-22.2 196.9,-21.8 196.4,-15.9 195.2,-16.2 191.8,-16.2 190.9,-16.0 188.4,-14.6 186.4,-12.6 185.8,-11.6 184.8,-8.2 184.9,-5.0 185.8,-2.4 186.4,-1.4 188.4,0.6 190.9,2.0 191.8,2.2 195.2,2.2 196.1,2.0 197.2,1.4 198.2,2.1 199.2,2.2 200.2,1.9 200.9,1.2 201.2,0.2 201.2,-21.2 200.9,-22.2 200.2,-22.9ZM192.5,-11.8 194.5,-11.8 195.5,-11.2 196.8,-10.0 196.8,-4.0 195.5,-2.8 194.5,-2.2 192.5,-2.2 191.5,-2.8 190.0,-4.2 189.2,-6.4 189.2,-7.6 190.0,-9.8 191.5,-11.2ZM135.8,-22.9 135.1,-22.2 134.8,-21.2 134.9,-20.2 135.1,-19.8 135.8,-19.1 136.8,-18.8 141.8,-18.6 141.8,0.2 142.1,1.2 142.8,1.9 143.8,2.2 144.8,2.1 145.2,1.9 145.9,1.2 146.2,0.2 146.4,-18.8 151.2,-18.8 152.2,-19.1 152.9,-19.8 153.2,-20.8 153.1,-21.8 152.9,-22.2 152.2,-22.9 151.2,-23.2 136.8,-23.2ZM98.8,-23.2 97.8,-22.9 97.1,-22.2 96.8,-21.2 96.8,-13.8 97.1,-12.8 97.8,-12.1 98.2,-11.9 99.2,-11.8 100.2,-12.1 100.9,-12.8 101.2,-13.8 101.2,-21.2 100.9,-22.2 100.2,-22.9 99.8,-23.1ZM8.8,-23.2 7.9,-23.0 5.4,-21.6 3.4,-19.6 2.9,-18.9 2.0,-17.1 2.0,-16.9 1.8,-16.6 0.8,-13.2 0.8,-7.8 0.9,-7.0 1.8,-4.4 2.0,-4.1 2.0,-3.9 2.9,-2.1 3.4,-1.4 5.4,0.6 7.9,2.0 8.8,2.2 13.2,2.2 14.1,2.0 16.6,0.6 18.6,-1.4 19.1,-2.1 20.0,-3.9 20.2,-4.8 20.2,-8.4 19.9,-9.2 19.2,-9.9 18.4,-10.2 12.8,-10.2 11.8,-9.9 11.1,-9.2 10.8,-8.2 10.8,-7.8 11.1,-6.8 11.8,-6.1 12.2,-5.9 15.6,-5.4 15.2,-4.5 13.5,-2.8 12.5,-2.2 9.5,-2.2 8.5,-2.8 6.8,-4.5 6.1,-5.8 5.2,-8.4 5.2,-12.6 6.1,-15.2 6.8,-16.5 8.5,-18.2 9.5,-18.8 12.5,-18.8 13.5,-18.2 15.2,-16.5 16.1,-14.8 16.8,-14.1 17.8,-13.8 18.2,-13.8 19.2,-14.1 19.9,-14.8 20.1,-15.2 20.2,-16.2 20.0,-17.1 18.6,-19.6 16.6,-21.6 15.9,-22.1 14.1,-23.0 13.2,-23.2ZM206.8,-24.2 205.4,-23.6 204.4,-22.6 203.8,-21.4 203.8,-20.6 204.4,-19.4 205.4,-18.4 206.2,-17.9 207.2,-17.8 208.6,-18.4 209.6,-19.4 210.1,-20.2 210.2,-21.2 209.6,-22.6 208.6,-23.6 207.8,-24.1ZM90.8,-24.2 89.4,-23.6 88.4,-22.6 87.8,-21.4 87.8,-20.6 88.4,-19.4 89.4,-18.4 90.2,-17.9 91.2,-17.8 92.6,-18.4 93.6,-19.4 94.1,-20.2 94.2,-21.2 93.6,-22.6 92.6,-23.6 91.8,-24.1Z"/></g>
<g stroke="#ececec" stroke-width="1" fill="none" shape-rendering="crispEdges">
<line x1="108.0" y1="614.9" x2="1138.5" y2="614.9"/>
<line x1="108.0" y1="553.5" x2="1138.5" y2="553.5"/>
<line x1="108.0" y1="492.1" x2="1138.5" y2="492.1"/>
<line x1="108.0" y1="430.7" x2="1138.5" y2="430.7"/>
<line x1="125.4" y1="369.3" x2="125.4" y2="676.3" stroke="#dedede"/>
<line x1="418.4" y1="369.3" x2="418.4" y2="676.3" stroke="#dedede"/>
<line x1="638.2" y1="369.3" x2="638.2" y2="676.3" stroke="#dedede"/>
<line x1="858.2" y1="369.3" x2="858.2" y2="676.3" stroke="#dedede"/>
<line x1="1077.8" y1="369.3" x2="1077.8" y2="676.3" stroke="#dedede"/>
<line x1="108.0" y1="369.3" x2="1138.5" y2="369.3" stroke="#e2e2e2"/>
<line x1="1138.5" y1="369.3" x2="1138.5" y2="676.3" stroke="#e2e2e2"/>
</g>
<g id="wm">
<path d="M611.4,432.1 H634.1 V462 L668,522 Q672.5,534.2 660,534.2 H586 Q573.5,534.2 578,522 L611.4,462 Z" fill="none" stroke="#cbcbcb" stroke-width="5.3" stroke-linejoin="round" stroke-linecap="round"/>
<path d="M599.5,499 Q601.5,497.5 604,500.5 Q612,509.5 619,510.3 Q624,510.5 628,507 Q632,504.5 636,508 Q641,512.5 646,512.3 Q649.5,512 652,514.5 L660,525.5 Q661,529.3 657.5,529.3 H588.5 Q584.5,529.3 586,525.5 Z" fill="#dceef2"/>
<text transform="translate(369.8,583.6) scale(1.11,1)" font-family="'Liberation Sans', sans-serif" font-weight="bold" font-size="36.3" fill="#cbcbcb" stroke="#cbcbcb" stroke-width="0.3" textLength="458.6" lengthAdjust="spacing">MATERIAL INDICATORS</text>
<text x="444.6" y="617.2" font-family="'Liberation Sans', sans-serif" font-size="19" fill="#cbcbcb" stroke="#cbcbcb" stroke-width="0.35" textLength="357" lengthAdjust="spacing">THE SCIENCE OF TRADING</text>
<line x1="372.5" y1="610.4" x2="438.2" y2="610.4" stroke="#cbcbcb" stroke-width="1.9"/>
<line x1="808" y1="610.4" x2="873" y2="610.4" stroke="#cbcbcb" stroke-width="1.9"/>
</g>
<g clip-path="url(#lc)" fill="none" stroke-width="1.5" stroke-linejoin="round">
<polyline stroke="#1f77b4" points="107.4,375.2 111.0,374.9 113.4,376.8 115.7,373.1 119.6,371.5 124.3,372.1 129.0,372.6 135.2,374.2 139.9,375.7 144.6,376.5 149.3,378.8 152.4,379.6 155.6,381.5 158.7,379.6 161.8,377.8 164.9,376.5 166.5,371.8 169.6,374.2 172.8,374.9 175.9,373.4 179.0,372.6 182.1,373.1 186.8,374.2 191.5,374.9 197.8,375.7 200.9,378.1 204.8,381.2 207.1,385.1 210.2,383.5 213.4,382.4 216.5,382.0 220.4,382.4 224.3,383.5 229.0,385.1 233.7,387.4 238.4,388.7 243.1,388.2 244.6,398.4 247.8,410.9 249.0,423.4 252.1,431.2 255.2,433.6 258.4,435.9 261.5,435.2 264.6,433.1 268.5,432.5 271.7,435.2 274.8,438.3 277.9,441.4 279.5,455.5 281.8,458.6 286.5,459.4 290.4,461.7 293.5,464.1 295.1,456.2 297.4,450.0 301.3,447.7 305.2,445.3 309.2,443.8 313.1,441.9 316.2,438.3 319.3,438.8 322.4,440.9 326.3,442.5 330.2,443.0 333.4,443.8 336.5,441.4 340.4,440.9 344.3,441.9 348.2,443.0 352.1,444.5 356.8,443.0 361.5,442.5 365.4,444.5 369.3,446.6 371.7,450.3 376.3,449.7 381.0,448.8 385.7,449.2 388.8,453.1 391.2,455.5 393.5,456.2 395.1,460.9 398.2,460.9 400.2,455.5 401.3,471.9 402.4,485.9 406.0,486.7 407.9,485.2 411.8,481.2 415.7,476.6 418.8,474.2 422.0,477.3 425.9,478.9 429.8,478.1 433.7,476.2 437.6,476.6 443.1,480.5 447.8,478.1 452.4,479.7 457.1,480.5 460.2,479.7 462.6,484.4 465.7,487.5 469.6,490.6 474.3,491.4 479.0,493.8 483.7,495.0 487.6,496.6 491.5,495.0 495.4,493.8 500.1,493.0 504.0,495.3 507.1,498.4 511.8,500.0 514.9,497.7 517.3,493.8 520.4,489.8 521.5,478.9 525.1,478.1 529.0,475.0 532.9,473.4 536.0,472.7 538.4,468.8 541.5,465.3 545.4,463.3 549.3,463.0 553.2,464.8 557.1,464.1 561.0,463.3 564.9,465.6 568.8,467.2 572.8,468.8 575.9,468.0 579.0,466.9 582.9,470.0 588.7,469.2 593.4,470.3 598.1,470.3 602.8,469.7 607.4,469.2 610.6,472.3 614.5,475.5 617.6,480.2 622.3,482.5 626.2,482.5 630.1,484.8 634.8,488.0 639.5,490.3 644.2,493.4 648.1,495.8 652.8,500.5 657.4,502.8 662.1,504.4 666.8,506.2 670.7,507.5 674.6,510.6 677.8,513.8 680.9,517.7 685.6,518.1 690.2,518.1 690.9,520.0 691.8,535.6 695.2,536.4 699.2,534.8 703.1,537.2 706.2,543.4 710.9,548.1 714.8,548.9 717.9,549.7 721.8,553.6 724.2,562.2 726.5,570.0 729.6,572.8 734.3,572.3 739.0,570.0 743.7,569.2 746.0,574.7 749.2,583.3 752.3,584.8 755.4,582.5 757.0,595.0 758.1,605.9 759.6,593.4 762.4,587.2 765.6,595.8 770.2,605.9 772.9,621.2 774.0,636.9 775.2,652.5 777.6,654.8 779.9,658.0 782.3,652.5 783.8,663.4 785.4,675.6 787.0,668.1 788.5,657.2 790.9,655.6 794.0,657.2 797.1,656.4 800.2,652.5 803.4,656.4 806.5,658.0 808.4,646.2 812.0,640.0 814.3,636.9 817.4,638.4 820.6,633.0 824.5,629.1 827.6,632.2 829.6,633.8 830.7,621.2 832.3,605.6 835.1,585.6 836.7,573.1 838.2,566.1 839.0,565.3 840.6,567.7 842.1,563.0 844.5,559.1 848.4,561.4 851.5,559.8 854.6,555.2 857.8,557.5 860.9,562.2 864.0,560.6 867.1,557.5 870.2,556.7 873.4,555.6 875.2,563.8 878.1,565.3 880.4,573.9 883.5,577.0 885.1,582.0 886.2,590.0 888.5,599.4 890.1,605.6 892.4,605.6 894.8,604.8 897.9,610.3 901.0,618.1 904.2,625.9 907.3,630.6 910.4,635.3 913.5,631.4 917.4,629.8 922.1,629.1 926.8,627.5 931.5,627.8 936.2,627.2 940.9,628.8 944.0,629.8 947.1,630.3 950.2,627.5 953.4,625.2 955.7,618.9 958.1,615.0 961.2,615.8 964.3,618.1 967.4,614.2 971.3,612.7 974.5,608.0 977.6,608.4 980.7,608.0 983.1,611.9 986.2,610.3 990.1,609.1 992.4,611.1 994.8,613.4 997.9,614.2 1001.8,612.7 1006.5,613.1 1011.2,611.9 1015.1,610.3 1019.8,611.9 1024.5,612.7 1027.6,616.6 1030.7,618.9 1033.8,618.4 1036.2,622.0 1039.3,624.1 1042.4,624.7 1044.8,622.0 1046.8,626.2 1049.5,623.1 1053.4,622.8 1057.3,622.0 1060.4,623.6 1064.3,624.1 1067.4,628.3 1069.8,633.0 1073.7,635.3 1077.6,637.7 1080.7,638.4 1083.8,637.2 1087.0,639.7 1090.1,641.6 1094.0,644.7 1097.9,648.6 1101.8,650.2 1105.7,652.5 1108.8,655.6 1112.0,656.9 1115.9,659.5 1119.0,655.6 1122.1,654.1 1125.2,654.4 1128.4,653.8 1131.5,655.3 1134.6,659.5 1137.8,662.7"/>
<polyline stroke="#ff7f0e" points="107.4,375.7 110.2,374.9 113.4,373.4 115.7,371.0 118.8,372.6 121.2,371.8 124.3,372.6 129.0,373.1 133.7,372.6 136.8,371.5 139.9,370.6 144.6,369.9 147.8,369.9 149.3,373.4 150.9,377.3 154.0,379.6 157.1,384.3 158.7,389.8 161.0,394.5 164.2,397.6 165.7,403.1 166.5,418.7 167.3,434.3 168.1,443.7 170.4,453.1 173.5,456.2 177.4,457.8 180.6,456.2 185.2,460.1 187.6,457.8 191.5,458.5 195.4,459.0 199.3,461.7 204.0,464.8 207.9,468.4 211.0,468.7 213.4,466.3 217.3,462.4 221.2,459.3 224.3,457.8 228.7,460.2 233.4,462.5 238.1,463.8 242.0,465.6 243.5,473.4 245.1,485.2 247.4,485.6 249.0,478.1 250.6,475.8 252.9,478.1 255.2,480.9 258.4,480.5 261.5,481.2 264.6,478.9 268.5,477.3 272.4,476.2 276.3,475.8 278.7,473.4 279.5,462.5 282.6,462.5 286.5,461.7 289.6,463.3 292.8,467.2 295.1,465.6 296.7,471.1 299.8,472.7 303.7,471.1 307.6,468.8 311.5,470.3 315.4,469.5 317.8,471.9 320.9,475.8 324.0,478.1 326.3,483.6 327.9,488.3 330.2,481.2 332.6,480.5 334.2,489.1 334.9,500.0 337.3,497.7 340.4,494.5 343.5,493.8 347.4,494.5 350.6,496.1 353.7,493.0 357.6,490.6 361.5,488.3 364.6,489.8 367.8,489.1 370.9,492.2 374.0,488.3 378.7,485.9 382.6,485.2 386.5,479.7 389.6,481.2 393.5,480.5 397.4,478.1 400.6,473.4 403.7,468.8 407.9,462.5 411.8,457.0 415.7,452.3 418.8,449.2 422.0,446.9 424.3,440.9 426.7,440.6 429.0,445.3 432.1,450.0 435.2,455.5 438.4,454.7 441.5,455.5 444.6,453.9 447.8,457.8 450.9,461.7 452.4,464.4 455.6,460.2 458.7,457.8 461.8,460.2 464.9,464.8 468.1,463.3 471.2,459.4 474.3,455.5 477.4,457.8 480.6,460.2 483.7,454.7 488.4,450.8 493.1,448.4 497.8,446.9 502.4,447.7 504.8,449.7 508.7,446.6 513.4,448.4 516.5,456.2 519.6,462.5 521.5,469.5 522.8,472.7 525.1,473.4 527.4,470.3 530.6,468.0 533.7,465.6 536.8,462.5 539.6,460.2 541.5,465.6 544.6,468.8 548.5,470.3 552.4,471.1 556.3,469.5 560.2,466.4 564.9,464.1 569.6,462.5 573.5,460.2 576.7,457.0 580.6,456.2 584.5,455.5 587.1,456.2 590.2,455.2 592.6,460.6 594.9,466.9 598.1,471.6 601.2,473.9 605.1,477.0 608.2,480.2 609.8,485.6 612.9,486.4 616.8,488.0 621.5,489.1 624.6,488.8 626.2,482.5 627.8,473.9 630.9,477.8 635.6,480.2 639.5,478.6 644.2,477.8 646.5,473.9 648.8,465.3 652.0,464.5 654.3,460.3 657.4,462.5 661.3,462.2 665.2,465.3 669.2,470.0 672.3,475.0 675.4,472.3 679.3,474.7 683.2,478.6 686.3,480.6 687.9,474.7 691.8,471.6 694.2,473.9 697.3,479.4 700.4,483.3 703.5,488.8 706.7,492.7 710.6,495.8 714.5,496.6 717.6,497.3 719.9,493.4 723.1,495.0 726.2,501.2 728.5,505.9 732.4,505.2 735.6,509.1 738.7,507.5 742.6,502.0 745.7,505.9 748.8,512.2 752.0,514.5 755.9,513.0 757.8,526.2 760.6,521.6 763.7,522.3 766.3,524.7 768.7,516.9 771.0,505.2 772.6,504.4 774.2,516.1 777.3,515.3 780.4,509.1 783.5,509.8 786.7,502.8 789.8,498.9 792.9,494.2 796.0,490.3 799.2,487.2 801.5,486.9 803.8,490.3 807.0,486.4 810.9,488.0 814.0,485.6 817.9,488.0 821.0,482.5 823.4,480.2 824.9,487.2 826.2,509.1 827.3,532.5 828.4,563.8 829.2,621.2 829.6,652.5 830.2,675.2 832.3,668.1 834.6,658.8 837.0,650.9 838.5,647.0 840.1,655.6 841.7,664.2 844.0,660.3 845.6,661.1 847.9,668.1 850.2,672.8 852.6,672.0 854.2,665.0 856.5,661.9 858.8,667.3 860.4,668.4 863.5,665.8 867.4,664.7 871.3,663.4 875.2,663.1 879.2,663.8 883.1,663.4 885.4,660.3 887.8,654.1 890.1,649.4 893.2,647.8 894.8,640.8 897.1,644.7 901.0,643.1 903.4,636.9 905.7,631.4 908.8,626.7 912.0,619.7 913.5,608.0 916.7,603.3 920.6,600.9 925.2,603.3 927.6,610.3 929.9,613.4 933.1,615.0 937.8,613.4 941.7,613.8 944.0,614.2 947.9,613.8 951.8,614.2 955.7,614.2 959.6,615.8 962.8,616.6 965.1,612.7 967.4,611.1 971.3,610.3 972.9,604.1 974.5,600.2 977.6,599.7 979.2,596.6 983.1,595.5 986.2,594.7 989.3,596.2 992.4,597.5 996.3,597.5 999.5,596.2 1001.8,597.0 1004.9,599.7 1008.1,599.4 1011.2,597.5 1013.5,593.1 1014.3,589.1 1016.7,585.9 1019.0,582.0 1021.3,578.9 1024.5,578.9 1027.6,577.3 1030.7,574.7 1033.1,576.6 1034.3,584.4 1035.4,593.8 1037.8,595.3 1039.3,589.1 1041.7,585.9 1044.8,586.7 1047.1,590.6 1050.2,593.8 1053.4,594.5 1055.7,593.0 1057.3,587.5 1059.6,582.8 1062.0,577.3 1064.3,572.7 1068.2,571.6 1070.6,565.6 1072.1,562.8 1076.0,562.5 1078.4,562.2 1081.5,558.6 1084.6,555.5 1088.5,552.3 1091.7,550.0 1096.3,548.1 1100.2,547.7 1104.9,548.4 1109.6,550.0 1112.8,551.6 1115.9,550.8 1120.6,550.3 1122.1,555.0 1125.2,555.9 1128.4,552.3 1131.5,549.2 1133.8,550.0 1137.8,545.3"/>
<polyline stroke="#2ca02c" points="107.4,371.0 113.4,370.2 122.8,369.9 132.1,371.0 138.4,373.7 144.6,375.7 150.9,377.8 157.1,378.8 161.8,379.6 165.7,382.0 168.8,387.4 172.8,391.3 177.4,392.9 182.1,393.7 185.2,395.2 189.9,396.0 194.6,396.5 199.3,397.6 204.0,400.7 207.1,402.8 213.4,403.8 219.6,404.3 225.9,404.6 230.6,405.9 235.2,408.5 239.9,409.6 243.1,410.6 244.6,426.6 247.8,427.3 250.9,434.4 254.0,437.5 256.8,439.8 261.5,442.2 266.2,443.0 270.9,443.0 275.6,444.5 280.2,445.3 284.2,446.9 288.1,450.8 291.2,453.1 294.3,455.5 297.4,456.2 300.6,453.9 305.2,451.6 309.9,452.3 313.8,453.1 317.8,453.9 321.7,452.3 325.6,450.8 329.5,449.2 332.6,446.9 335.7,446.9 338.8,444.5 342.8,443.8 347.4,444.5 351.3,444.5 353.7,439.1 356.0,435.2 359.2,434.4 362.3,433.1 366.2,435.2 370.9,438.3 375.6,439.8 380.2,440.6 384.9,441.9 389.6,444.5 392.8,446.1 395.1,450.0 398.2,451.6 401.3,453.1 402.9,460.9 405.6,459.8 410.2,458.1 415.7,456.2 419.6,458.1 424.3,461.7 429.0,464.8 433.7,467.2 438.4,469.5 444.6,470.0 449.3,468.4 452.4,471.1 457.1,472.2 461.8,474.7 466.5,477.3 471.2,478.9 475.9,479.7 480.6,481.2 485.2,478.9 489.9,477.3 494.6,475.0 499.3,471.9 504.0,471.9 508.7,473.1 513.4,474.2 516.5,472.7 520.4,471.1 522.8,472.7 527.4,469.5 532.1,466.4 536.0,463.3 539.2,465.6 542.3,470.3 546.2,469.5 550.9,467.2 555.6,464.8 560.2,463.3 564.9,461.7 569.6,458.6 573.5,457.0 577.4,455.0 582.1,455.5 584.0,455.2 590.2,453.1 596.5,451.2 602.8,448.9 607.4,448.1 612.1,448.6 615.2,450.9 619.9,452.8 625.4,453.6 629.3,452.8 634.0,455.6 638.7,457.2 641.8,457.8 645.7,461.4 649.6,463.8 653.5,464.5 657.4,463.0 662.1,464.5 666.8,466.6 671.5,467.2 676.2,465.6 680.9,466.9 685.6,472.3 690.2,473.9 693.4,481.7 696.5,484.8 700.4,484.1 704.3,485.6 707.4,489.1 711.3,488.8 715.2,486.4 718.4,487.2 722.3,488.0 724.6,493.4 727.0,505.9 729.3,508.3 732.4,513.0 735.6,520.0 738.7,520.8 741.8,521.6 744.2,521.6 746.0,527.8 748.4,532.5 750.7,543.4 753.8,547.3 756.5,545.8 757.8,559.1 759.3,566.9 763.2,568.4 766.3,576.2 768.7,584.1 771.8,585.3 774.2,605.9 775.2,611.9 779.2,615.0 783.1,619.7 785.4,627.5 788.5,632.2 791.7,641.6 794.8,645.5 797.9,646.2 801.0,647.8 804.2,653.3 808.1,651.7 812.8,652.5 816.7,652.8 819.8,654.8 822.1,653.3 823.7,660.3 826.0,669.7 828.1,675.9 829.6,668.1 831.5,657.2 833.8,647.8 836.2,640.0 837.8,634.5 840.9,631.4 844.8,629.8 847.9,633.0 851.0,633.8 854.9,629.1 858.8,630.9 862.8,631.9 867.4,630.9 872.1,630.9 876.8,633.4 881.5,635.3 885.4,635.0 888.5,632.2 892.4,631.9 896.3,629.1 900.2,628.8 904.2,629.4 907.3,629.8 909.6,634.5 912.8,633.0 915.1,630.9 919.8,630.3 925.2,629.1 929.9,629.4 934.6,630.3 939.3,631.4 944.0,632.2 948.7,634.5 953.4,632.2 958.1,629.8 962.8,629.1 967.4,626.7 972.1,623.6 976.8,620.5 981.5,619.7 985.4,617.3 989.3,615.0 993.2,613.4 997.1,613.4 1001.0,611.1 1006.5,609.1 1011.2,608.4 1015.9,607.5 1020.6,609.1 1025.2,610.3 1029.9,611.1 1033.8,612.7 1037.0,614.7 1040.9,613.1 1045.6,612.7 1050.2,611.9 1054.9,611.6 1059.6,610.6 1065.1,608.8 1069.0,610.3 1073.7,610.0 1078.4,609.5 1083.1,609.5 1087.8,611.1 1092.4,613.4 1097.1,615.3 1101.8,615.0 1106.5,613.8 1110.4,611.9 1114.3,610.3 1117.4,608.0 1120.6,605.9 1125.2,605.9 1129.9,607.2 1133.1,608.4 1135.4,611.9 1137.8,614.2"/>
<polyline stroke="#d62728" points="107.4,410.9 108.7,402.3 111.8,401.5 114.2,403.1 116.5,397.6 119.6,392.1 123.5,389.8 127.4,392.1 131.3,393.7 135.2,396.0 139.9,400.7 144.6,401.5 147.8,403.1 150.9,406.2 153.2,407.0 156.3,405.4 159.5,405.4 162.6,401.5 164.9,400.7 166.5,384.3 167.3,378.1 169.6,379.6 172.8,382.0 175.1,382.0 176.2,374.2 178.2,373.4 180.6,371.0 182.9,374.2 185.2,374.9 189.2,376.5 193.8,377.3 197.8,378.1 200.9,380.4 204.8,383.5 206.3,388.2 208.7,386.7 212.6,383.5 216.5,382.8 219.6,385.9 222.8,388.2 225.9,389.8 229.0,389.0 232.9,389.8 236.8,390.6 239.9,389.0 243.1,388.2 244.6,398.4 245.9,407.0 247.4,409.4 249.0,417.2 250.6,426.6 251.3,421.9 253.7,421.1 256.0,423.4 258.4,426.6 260.7,427.3 263.8,422.7 267.0,421.1 270.1,421.1 272.4,425.8 275.6,428.9 277.1,430.5 277.9,446.9 278.7,462.5 279.9,476.6 281.8,482.8 284.9,480.5 288.8,478.1 292.0,482.0 294.3,479.7 295.6,462.5 296.7,451.6 299.0,448.4 302.9,446.1 306.8,441.4 310.7,437.5 313.8,434.4 316.2,427.3 318.5,425.0 321.7,428.1 324.8,429.7 327.1,431.2 328.4,435.2 330.2,430.5 333.4,431.2 336.5,431.2 339.6,433.6 343.5,435.9 346.7,437.5 350.6,440.6 354.5,441.4 358.4,439.1 361.5,439.8 365.4,441.4 368.5,443.8 370.9,448.4 374.0,450.0 378.7,449.2 383.4,448.4 386.5,450.0 388.1,454.7 388.8,460.9 392.0,460.2 393.5,461.7 395.9,464.8 398.2,464.1 399.8,457.0 400.9,462.5 401.8,481.2 402.4,493.8 403.7,493.8 407.1,487.5 410.2,482.0 413.4,476.6 416.5,472.7 418.8,476.6 421.2,481.2 422.8,486.7 425.9,486.7 429.0,482.8 432.1,479.7 435.2,476.6 439.2,477.3 443.1,480.5 446.2,480.5 449.3,476.6 452.4,478.9 456.3,478.1 459.5,476.6 461.8,481.2 464.2,486.7 467.3,490.6 471.2,493.0 475.1,493.8 479.0,495.3 482.9,497.7 486.8,499.2 489.2,502.3 491.5,502.3 493.1,497.7 497.8,497.7 501.7,496.6 504.0,500.0 506.3,507.8 508.7,510.6 513.4,511.2 515.2,500.0 516.5,492.2 519.6,489.1 521.2,473.4 524.3,471.1 527.4,468.8 531.3,468.0 535.2,466.4 537.6,462.5 539.2,453.1 541.5,442.2 543.8,436.2 547.0,434.7 550.1,435.2 553.2,438.3 556.3,439.8 559.5,440.3 561.8,443.0 564.2,447.7 566.5,450.0 569.6,451.6 572.8,453.1 575.1,457.8 578.2,456.2 581.3,460.2 584.5,457.0 587.1,458.3 590.2,460.3 594.9,460.9 599.6,461.9 604.3,463.0 609.0,465.3 613.7,467.7 618.4,470.8 623.1,473.9 627.0,474.7 630.1,478.6 634.0,482.5 637.9,486.4 641.8,485.6 644.2,491.1 647.3,495.0 650.4,498.9 652.8,504.4 654.3,512.2 657.4,513.0 662.1,516.1 666.8,517.7 668.7,520.0 673.4,523.9 677.3,530.9 679.6,536.4 682.8,535.6 685.9,530.9 689.8,529.4 690.9,540.3 692.1,553.6 694.5,552.8 696.8,548.1 699.9,545.8 703.1,549.7 705.4,556.7 707.0,562.2 710.1,566.9 714.0,573.1 717.9,577.0 721.8,581.7 724.2,591.9 727.3,601.2 730.4,601.6 733.5,596.6 736.7,586.4 739.8,582.5 742.9,577.0 746.0,580.2 749.2,573.9 752.3,570.8 755.4,568.4 757.8,581.7 759.3,562.2 761.7,554.4 764.8,552.0 767.9,551.2 771.0,556.7 773.1,566.9 774.2,588.8 775.2,603.6 778.1,604.4 781.2,598.1 783.5,599.7 785.1,622.3 786.7,602.8 789.0,584.1 790.2,577.8 792.1,582.5 795.2,580.2 799.9,579.4 803.8,582.5 806.2,579.4 807.8,559.1 810.1,543.4 813.2,532.5 818.7,530.9 820.2,520.0 823.4,512.2 824.9,503.6 826.5,500.5 827.8,508.3 828.8,498.1 830.4,484.1 832.0,470.0 832.8,445.2 834.3,418.7 835.9,401.5 837.8,385.1 839.8,390.6 841.3,387.4 842.9,380.4 844.9,374.9 849.2,376.5 852.3,374.2 854.3,370.2 857.8,375.7 859.6,382.0 861.7,386.7 864.8,385.1 867.9,382.0 871.0,380.4 873.4,379.3 875.2,392.1 878.1,392.9 879.6,401.5 882.0,412.4 884.3,414.0 886.7,426.5 888.2,448.4 890.2,465.6 892.9,467.1 895.2,471.8 896.0,474.7 898.4,482.5 900.7,495.0 902.3,510.6 903.8,524.7 905.4,537.2 907.8,543.4 910.1,552.8 912.4,551.2 914.8,548.1 918.7,545.8 923.4,544.2 927.3,542.7 929.6,543.4 932.8,541.1 935.9,539.5 939.8,540.3 943.7,541.9 947.9,542.2 949.5,537.5 951.8,536.7 954.2,532.0 955.7,531.2 957.3,523.4 959.6,521.1 962.0,525.0 964.3,529.7 966.7,526.6 969.8,524.2 972.9,520.3 976.0,521.9 979.9,524.2 981.5,531.2 983.1,537.5 986.2,536.7 989.3,535.2 990.9,534.7 992.4,541.4 994.8,545.3 997.1,546.9 998.7,550.0 1002.6,550.8 1006.5,551.6 1009.6,552.3 1013.5,553.1 1015.6,550.0 1018.2,552.3 1022.1,555.5 1026.0,557.0 1027.6,562.5 1029.9,568.0 1032.3,571.1 1034.6,571.1 1036.2,575.0 1038.5,577.3 1041.7,577.3 1044.0,575.8 1045.6,578.1 1046.8,582.0 1047.9,575.8 1050.2,573.4 1053.4,574.2 1056.5,573.4 1058.1,573.1 1059.3,578.1 1060.4,581.2 1062.8,582.8 1065.1,585.2 1065.9,590.0 1068.2,597.8 1069.8,605.6 1072.1,611.1 1075.2,615.8 1079.2,619.7 1083.1,620.9 1086.2,622.0 1089.3,625.9 1092.4,629.1 1095.6,633.8 1098.7,636.9 1101.8,640.0 1104.9,643.9 1107.3,650.2 1108.8,655.6 1112.0,657.2 1114.3,662.7 1115.9,665.8 1119.0,662.7 1122.9,661.9 1126.8,662.2 1129.9,665.0 1133.1,669.7 1135.4,674.4 1136.5,676.2"/>
<polyline stroke="#9467bd" points="107.4,386.7 110.2,385.9 113.4,386.7 115.7,382.0 118.8,380.9 122.0,382.0 124.3,383.5 127.4,382.4 132.1,382.0 135.2,383.1 139.9,383.5 144.6,382.8 148.5,381.2 150.9,383.5 154.8,382.8 157.1,381.2 159.5,379.6 161.8,376.5 164.2,377.3 166.5,372.6 169.6,373.4 172.8,372.6 176.7,371.8 180.6,370.2 183.7,371.8 186.8,370.6 191.5,371.8 194.6,371.5 197.8,370.6 200.9,373.4 204.0,376.5 207.1,379.6 210.2,377.3 213.4,375.7 218.1,374.9 222.8,374.2 227.4,374.9 230.6,377.3 234.5,378.8 238.4,379.6 241.5,379.3 243.8,381.2 244.6,397.6 247.0,400.7 249.0,415.6 249.8,433.6 251.3,425.8 252.9,431.2 254.5,427.3 256.8,432.0 259.9,432.8 263.1,430.5 266.2,428.1 269.3,428.1 272.4,432.0 275.6,436.7 278.7,439.1 282.6,439.8 286.5,439.1 289.6,441.4 292.8,444.5 295.1,443.8 296.7,435.2 300.6,435.2 304.5,434.4 308.4,432.8 313.1,432.8 316.2,429.7 318.5,430.5 321.7,433.6 325.6,435.2 327.1,441.4 330.2,441.4 333.4,442.2 335.7,439.8 339.6,439.1 344.3,439.8 348.2,441.4 352.1,443.8 356.8,443.8 361.5,443.0 365.4,445.3 369.3,446.9 371.7,450.8 375.6,449.2 380.2,449.2 384.9,448.4 388.1,450.8 390.4,453.9 394.3,453.9 397.4,453.9 400.2,454.7 401.3,470.3 402.1,489.1 405.2,491.4 407.9,489.8 411.8,485.2 414.9,479.7 418.1,475.0 420.4,474.7 423.5,476.6 427.4,475.8 431.3,473.4 435.2,471.1 439.2,471.9 443.1,473.1 447.8,472.7 452.4,473.1 457.1,474.2 461.0,476.6 464.9,478.9 469.6,480.5 474.3,482.0 479.0,483.6 483.7,485.9 487.6,489.1 489.2,492.2 493.1,492.2 497.8,491.9 502.4,491.9 505.6,494.5 510.2,495.3 514.2,495.6 516.5,492.2 519.6,492.2 521.2,478.1 523.5,476.6 527.4,473.8 532.1,472.7 536.8,473.1 540.7,475.8 545.4,476.2 550.1,475.8 553.2,477.3 557.9,475.0 562.6,474.7 566.5,477.3 569.6,480.5 573.5,482.0 577.4,480.5 580.6,482.8 584.5,485.2 588.7,484.4 593.4,483.3 598.1,484.1 602.8,483.8 608.2,482.8 609.8,487.2 612.9,488.8 615.2,495.0 619.2,499.7 623.8,502.0 628.5,502.8 633.2,505.6 637.9,507.5 642.6,508.3 647.3,510.3 652.8,510.3 657.4,511.4 662.1,511.9 666.8,510.9 670.7,512.2 673.8,516.1 677.8,516.9 680.1,520.8 684.8,521.6 690.2,522.3 690.9,530.9 692.1,543.4 695.2,541.9 699.2,539.5 703.1,542.7 707.0,546.6 710.9,548.9 716.3,546.6 720.2,549.7 723.4,553.6 725.7,557.5 728.1,561.9 732.0,559.8 735.9,557.5 739.8,559.8 743.7,562.2 746.8,570.0 749.2,580.2 753.1,581.7 756.2,577.8 757.4,593.4 759.3,591.1 762.4,586.4 765.6,595.0 770.2,605.2 772.9,621.2 774.0,636.9 775.2,652.5 777.6,654.8 779.9,658.0 782.3,652.5 783.8,663.4 785.4,675.6 787.0,668.1 788.5,657.2 790.9,652.5 794.0,654.1 797.1,650.9 799.5,645.5 802.6,643.9 804.9,648.6 806.5,652.5 809.6,648.6 812.8,644.7 817.4,643.1 821.3,640.0 824.5,635.3 827.6,633.8 829.2,635.3 830.2,627.5 832.3,618.1 834.6,602.5 837.8,594.7 839.8,599.7 842.9,594.2 846.8,591.1 851.5,589.5 854.6,586.4 859.3,586.4 864.0,584.1 865.6,582.0 867.9,578.6 871.0,577.8 873.4,577.8 874.9,582.0 878.4,590.0 882.3,594.7 885.4,605.6 887.8,618.1 890.1,625.2 893.2,625.2 894.8,620.5 897.1,622.8 901.0,621.2 904.9,620.5 908.1,619.7 910.4,623.6 914.3,622.8 919.0,622.0 922.9,622.8 925.2,618.4 929.9,618.1 935.4,617.8 940.9,618.1 944.0,618.9 948.7,618.1 952.6,615.8 955.7,609.5 958.8,607.2 962.8,608.0 966.7,603.3 970.6,602.8 973.7,600.2 977.6,600.2 982.3,599.1 986.2,597.0 990.9,597.0 995.6,597.8 998.7,598.6 1001.0,595.5 1004.9,597.0 1009.6,596.6 1012.8,593.9 1017.4,594.4 1022.1,593.4 1026.8,594.4 1031.5,595.5 1034.6,592.3 1037.8,596.2 1040.9,600.9 1044.0,597.8 1047.1,600.6 1051.8,599.7 1055.7,600.6 1059.6,601.2 1064.3,600.2 1067.4,602.2 1071.3,602.5 1075.2,601.7 1079.2,603.3 1083.1,602.8 1087.0,604.1 1090.1,606.4 1093.2,605.9 1096.3,609.5 1099.5,613.1 1102.6,613.8 1106.5,614.7 1109.6,615.8 1112.8,618.9 1116.7,618.9 1119.8,615.0 1122.9,612.2 1126.0,611.6 1128.4,609.5 1132.3,609.1 1134.6,611.1 1137.8,614.7"/>
<polyline stroke="#8c564b" points="107.4,370.2 122.0,370.2 122.8,377.8 155.6,377.8 156.3,386.7 164.2,386.7 164.9,396.8 243.8,396.8 243.8,409.4 244.3,438.3 248.2,438.8 249.0,447.7 250.9,447.7 251.8,437.5 260.7,437.8 261.5,445.3 333.4,445.3 334.6,423.4 383.4,423.4 384.2,411.7 394.3,411.7 395.1,448.4 401.3,448.8 402.1,454.2 404.0,454.2 404.0,454.2 432.9,454.2 433.7,462.8 481.8,462.8 482.6,440.2 487.6,440.2 488.4,449.2 489.3,449.2 489.6,441.4 503.7,441.4 504.3,448.8 505.2,448.8 505.6,441.9 565.7,441.9 566.8,449.7 584.0,449.7 584.0,449.7 609.0,449.7 609.8,438.8 627.8,438.8 629.3,466.9 631.2,466.9 632.4,458.8 691.0,458.8 691.8,470.8 705.9,470.8 707.4,461.4 709.0,450.0 722.8,450.0 723.8,462.5 744.2,462.5 745.7,479.1 752.4,479.1 753.5,459.8 756.2,459.8 757.4,480.9 759.0,491.1 763.4,491.1 764.0,520.0 764.3,534.8 766.3,534.8 767.1,560.6 772.1,560.9 773.4,588.8 774.0,610.3 774.9,630.6 783.1,630.9 784.3,651.7 797.1,651.7 797.9,661.1 820.2,661.1 821.3,653.3 823.7,652.5 824.5,644.7 835.4,644.7 836.2,637.2 840.1,637.2 841.7,645.5 874.5,645.5 875.6,654.4 879.2,654.8 880.2,676.2 955.2,676.2 956.2,636.9 972.1,636.9 973.4,620.9 990.6,620.5 991.7,613.4 1000.2,613.1 1001.0,603.8 1056.8,603.3 1058.1,586.7 1138.7,586.2"/>
</g>
<g stroke="#262626" stroke-width="1.35" fill="none">
<line x1="108" y1="368.8" x2="108" y2="677.1"/>
<line x1="107.2" y1="676.3" x2="1138.5" y2="676.3" stroke-width="1.3"/>
</g>
<line x1="880.3" y1="676.0" x2="955.6" y2="676.0" stroke="#1a1a1a" stroke-width="2.0"/>
<g stroke="#262626" stroke-width="1.2" fill="none">
<line x1="102.3" y1="676.3" x2="109" y2="676.3"/>
<line x1="104.3" y1="664.0" x2="108" y2="664.0"/>
<line x1="104.3" y1="651.7" x2="108" y2="651.7"/>
<line x1="104.3" y1="639.5" x2="108" y2="639.5"/>
<line x1="104.3" y1="627.2" x2="108" y2="627.2"/>
<line x1="102.3" y1="614.9" x2="109" y2="614.9"/>
<line x1="104.3" y1="602.6" x2="108" y2="602.6"/>
<line x1="104.3" y1="590.3" x2="108" y2="590.3"/>
<line x1="104.3" y1="578.1" x2="108" y2="578.1"/>
<line x1="104.3" y1="565.8" x2="108" y2="565.8"/>
<line x1="102.3" y1="553.5" x2="109" y2="553.5"/>
<line x1="104.3" y1="541.2" x2="108" y2="541.2"/>
<line x1="104.3" y1="528.9" x2="108" y2="528.9"/>
<line x1="104.3" y1="516.7" x2="108" y2="516.7"/>
<line x1="104.3" y1="504.4" x2="108" y2="504.4"/>
<line x1="102.3" y1="492.1" x2="109" y2="492.1"/>
<line x1="104.3" y1="479.8" x2="108" y2="479.8"/>
<line x1="104.3" y1="467.5" x2="108" y2="467.5"/>
<line x1="104.3" y1="455.3" x2="108" y2="455.3"/>
<line x1="104.3" y1="443.0" x2="108" y2="443.0"/>
<line x1="102.3" y1="430.7" x2="109" y2="430.7"/>
<line x1="104.3" y1="418.4" x2="108" y2="418.4"/>
<line x1="104.3" y1="406.1" x2="108" y2="406.1"/>
<line x1="104.3" y1="393.9" x2="108" y2="393.9"/>
<line x1="104.3" y1="381.6" x2="108" y2="381.6"/>
<line x1="102.3" y1="369.3" x2="109" y2="369.3"/>
<line x1="125.4" y1="674.8" x2="125.4" y2="681.3"/>
<line x1="418.4" y1="674.8" x2="418.4" y2="681.3"/>
<line x1="638.2" y1="674.8" x2="638.2" y2="681.3"/>
<line x1="858.2" y1="674.8" x2="858.2" y2="681.3"/>
<line x1="1077.8" y1="674.8" x2="1077.8" y2="681.3"/>
</g>
<g font-family="'Liberation Serif', serif" font-size="10.5" fill="#555">
<text x="73.0" y="372.1" textLength="20.5" lengthAdjust="spacingAndGlyphs">1.00</text>
<text x="51.0" y="433.5" textLength="45.9" lengthAdjust="spacingAndGlyphs">800.00 m</text>
<text x="51.0" y="494.9" textLength="45.9" lengthAdjust="spacingAndGlyphs">600.00 m</text>
<text x="51.0" y="556.3" textLength="45.9" lengthAdjust="spacingAndGlyphs">400.00 m</text>
<text x="51.0" y="617.7" textLength="45.9" lengthAdjust="spacingAndGlyphs">200.00 m</text>
<text x="73.0" y="679.1" textLength="20.5" lengthAdjust="spacingAndGlyphs">0.00</text>
<text x="125.4" y="692.7" text-anchor="middle" textLength="20.3" lengthAdjust="spacingAndGlyphs">1/28</text>
<text x="418.4" y="692.7" text-anchor="middle" textLength="20.3" lengthAdjust="spacingAndGlyphs">2/01</text>
<text x="638.2" y="692.7" text-anchor="middle" textLength="20.3" lengthAdjust="spacingAndGlyphs">2/04</text>
<text x="858.2" y="692.7" text-anchor="middle" textLength="20.3" lengthAdjust="spacingAndGlyphs">2/07</text>
<text x="1077.8" y="692.7" text-anchor="middle" textLength="20.3" lengthAdjust="spacingAndGlyphs">2/10</text>
<text x="623.4" y="710.8" text-anchor="middle" font-style="italic" font-size="11.9" textLength="65.6" lengthAdjust="spacingAndGlyphs">Date (UTC)</text>
<text transform="translate(28,522.2) rotate(-90)" text-anchor="middle" font-style="italic" font-size="11.9" textLength="117.3" lengthAdjust="spacingAndGlyphs">Norm. CVD (arb. u.)</text>
</g>
<rect x="1140.5" y="539.5" width="122.5" height="137" fill="#fff" fill-opacity="0.8" stroke="#f3f3f3" stroke-width="1" rx="1.5"/>
<g font-family="'Liberation Serif', serif" font-size="12.9" fill="#555">
<line x1="1147" y1="556.2" x2="1165" y2="556.2" stroke="#1f77b4" stroke-width="1.6"/>
<text x="1169.5" y="560.2" textLength="55.5" lengthAdjust="spacingAndGlyphs">all orders</text>
<line x1="1147" y1="576.6" x2="1165" y2="576.6" stroke="#ff7f0e" stroke-width="1.6"/>
<text x="1169.5" y="580.6" textLength="70.0" lengthAdjust="spacingAndGlyphs">$100 to $1k</text>
<line x1="1147" y1="596.9" x2="1165" y2="596.9" stroke="#2ca02c" stroke-width="1.6"/>
<text x="1169.5" y="600.9" textLength="69.5" lengthAdjust="spacingAndGlyphs">$1k to $10k</text>
<line x1="1147" y1="617.3" x2="1165" y2="617.3" stroke="#d62728" stroke-width="1.6"/>
<text x="1169.5" y="621.3" textLength="84.0" lengthAdjust="spacingAndGlyphs">$10k to $100k</text>
<line x1="1147" y1="637.7" x2="1165" y2="637.7" stroke="#9467bd" stroke-width="1.6"/>
<text x="1169.5" y="641.7" textLength="81.0" lengthAdjust="spacingAndGlyphs">$100k to $1M</text>
<line x1="1147" y1="658.1" x2="1165" y2="658.1" stroke="#8c564b" stroke-width="1.6"/>
<text x="1169.5" y="662.1" textLength="78.5" lengthAdjust="spacingAndGlyphs">$1M to $10M</text>
</g>
</svg>
</body></html>
